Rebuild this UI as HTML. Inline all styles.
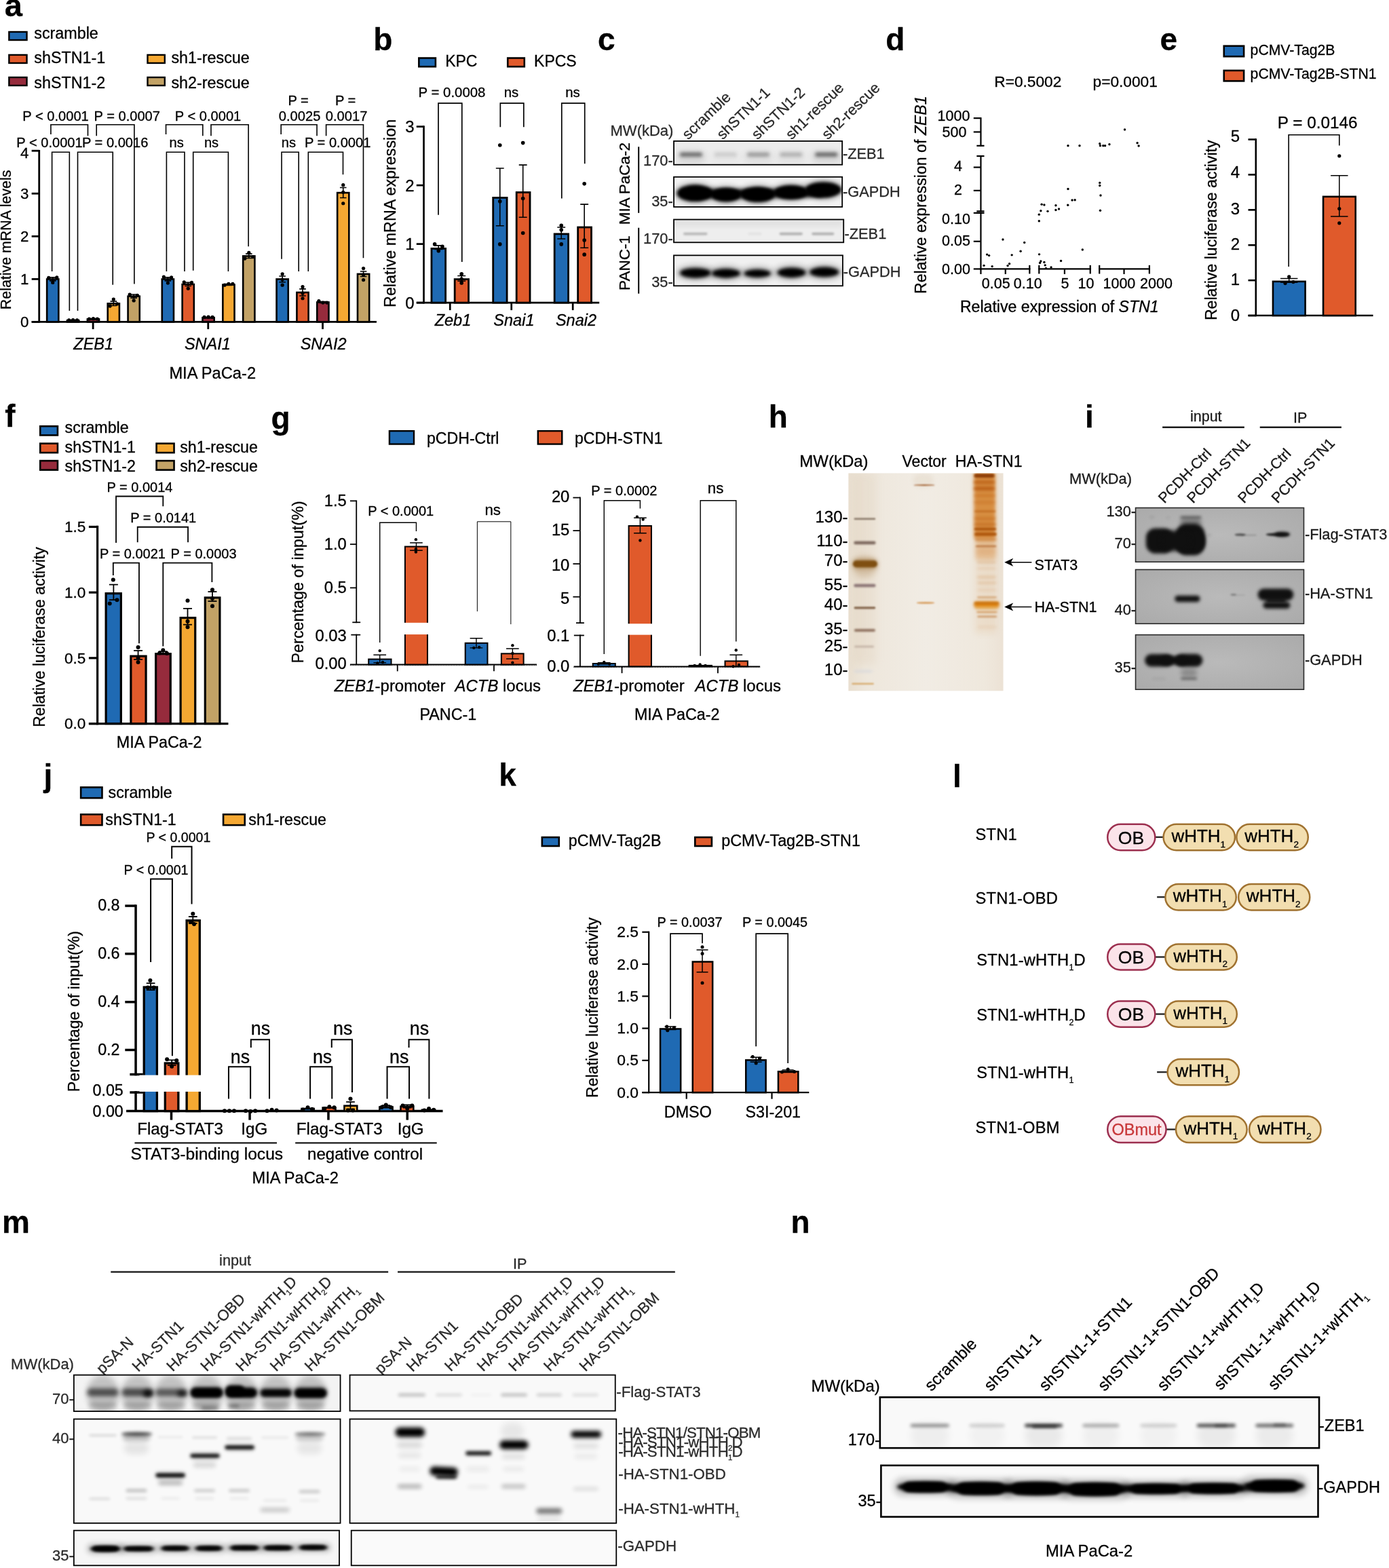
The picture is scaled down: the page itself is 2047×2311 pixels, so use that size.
<!DOCTYPE html>
<html><head><meta charset="utf-8"><title>Figure</title>
<style>
html,body{margin:0;padding:0;background:#fff;}
svg{display:block;}
text{font-family:"Liberation Sans",sans-serif;stroke-width:.3px;}
</style></head><body>
<svg width="2047" height="2311" viewBox="0 0 2047 2311">
<defs>
<filter id="bl1" x="-50%" y="-400%" width="200%" height="900%" color-interpolation-filters="sRGB"><feGaussianBlur stdDeviation="1"/></filter>
<filter id="bl1.5" x="-50%" y="-400%" width="200%" height="900%" color-interpolation-filters="sRGB"><feGaussianBlur stdDeviation="1.5"/></filter>
<filter id="bl2" x="-50%" y="-400%" width="200%" height="900%" color-interpolation-filters="sRGB"><feGaussianBlur stdDeviation="2"/></filter>
<filter id="bl2.5" x="-50%" y="-400%" width="200%" height="900%" color-interpolation-filters="sRGB"><feGaussianBlur stdDeviation="2.5"/></filter>
<filter id="bl3" x="-50%" y="-400%" width="200%" height="900%" color-interpolation-filters="sRGB"><feGaussianBlur stdDeviation="3"/></filter>
<filter id="bl3.5" x="-50%" y="-400%" width="200%" height="900%" color-interpolation-filters="sRGB"><feGaussianBlur stdDeviation="3.5"/></filter>
<filter id="bl4" x="-50%" y="-400%" width="200%" height="900%" color-interpolation-filters="sRGB"><feGaussianBlur stdDeviation="4"/></filter>
<filter id="bl5" x="-50%" y="-400%" width="200%" height="900%" color-interpolation-filters="sRGB"><feGaussianBlur stdDeviation="5"/></filter>
<filter id="bl6" x="-50%" y="-400%" width="200%" height="900%" color-interpolation-filters="sRGB"><feGaussianBlur stdDeviation="6"/></filter>
<filter id="bl8" x="-50%" y="-400%" width="200%" height="900%" color-interpolation-filters="sRGB"><feGaussianBlur stdDeviation="8"/></filter>
<filter id="bl10" x="-50%" y="-400%" width="200%" height="900%" color-interpolation-filters="sRGB"><feGaussianBlur stdDeviation="10"/></filter>
<filter id="bl14" x="-50%" y="-400%" width="200%" height="900%" color-interpolation-filters="sRGB"><feGaussianBlur stdDeviation="14"/></filter>
</defs>
<g id="panel-a">
<text x="6.79" y="24.31" font-size="47" font-weight="bold" stroke="#000">a</text>
<rect x="13.36" y="47.0" width="26.15" height="12.02" fill="#1f6ab3" stroke="#000" stroke-width="2.4"/>
<text x="50.32" y="56.54" font-size="23.3" stroke="#000">scramble</text>
<rect x="13.36" y="80.93" width="26.15" height="12.02" fill="#e05a2b" stroke="#000" stroke-width="2.4"/>
<text x="50.32" y="93.3" font-size="23.3" stroke="#000">shSTN1-1</text>
<rect x="13.36" y="114.0" width="26.15" height="12.02" fill="#962b3c" stroke="#000" stroke-width="2.4"/>
<text x="50.32" y="130.05" font-size="23.3" stroke="#000">shSTN1-2</text>
<rect x="217.48" y="80.93" width="25.31" height="12.02" fill="#f5a832" stroke="#000" stroke-width="2.4"/>
<text x="252.47" y="93.3" font-size="23.3" stroke="#000">sh1-rescue</text>
<rect x="217.48" y="114.0" width="25.31" height="12.02" fill="#c2a266" stroke="#000" stroke-width="2.4"/>
<text x="252.47" y="130.05" font-size="23.3" stroke="#000">sh2-rescue</text>
<line x1="57.72" y1="221.02" x2="57.72" y2="475.59999999999997" stroke="#000" stroke-width="2.8"/>
<line x1="46.65" y1="474.4" x2="554.97" y2="474.4" stroke="#000" stroke-width="2.8"/>
<line x1="46.65" y1="474.4" x2="57.72" y2="474.4" stroke="#000" stroke-width="2.8"/>
<text x="42.41" y="481.8" font-size="22.3" stroke="#000" text-anchor="end">0</text>
<line x1="46.65" y1="411.35" x2="57.72" y2="411.35" stroke="#000" stroke-width="2.8"/>
<text x="42.41" y="418.75" font-size="22.3" stroke="#000" text-anchor="end">1</text>
<line x1="46.65" y1="348.31" x2="57.72" y2="348.31" stroke="#000" stroke-width="2.8"/>
<text x="42.41" y="355.71" font-size="22.3" stroke="#000" text-anchor="end">2</text>
<line x1="46.65" y1="285.26" x2="57.72" y2="285.26" stroke="#000" stroke-width="2.8"/>
<text x="42.41" y="292.66" font-size="22.3" stroke="#000" text-anchor="end">3</text>
<line x1="46.65" y1="222.22" x2="57.72" y2="222.22" stroke="#000" stroke-width="2.8"/>
<text x="42.41" y="232.82" font-size="22.3" stroke="#000" text-anchor="end">4</text>
<line x1="137.12" y1="474.4" x2="137.12" y2="485.14" stroke="#000" stroke-width="2.8"/>
<line x1="306.75" y1="474.4" x2="306.75" y2="485.14" stroke="#000" stroke-width="2.8"/>
<line x1="475.53" y1="474.4" x2="475.53" y2="485.14" stroke="#000" stroke-width="2.8"/>
<text x="16.11" y="353.4" font-size="21.4" stroke="#000" text-anchor="middle" transform="rotate(-90 16.11 353.4)">Relative mRNA levels</text>
<rect x="69.15" y="411.45" width="17.19" height="62.95" fill="#1f6ab3" stroke="#000" stroke-width="2.6"/>
<path d="M77.75 408.83V413.88M72.95 408.83H82.55M72.95 413.88H82.55" stroke="#000" stroke-width="1.6" fill="none"/>
<circle cx="71.75" cy="409.46" r="2.6" fill="#000"/>
<circle cx="83.75" cy="408.83" r="2.6" fill="#000"/>
<circle cx="77.75" cy="416.4" r="2.6" fill="#000"/>
<rect x="99.01" y="472.29" width="17.19" height="2.11" fill="#e05a2b" stroke="#000" stroke-width="2.6"/>
<path d="M107.6 471.56V472.82M102.8 471.56H112.4M102.8 472.82H112.4" stroke="#000" stroke-width="1.6" fill="none"/>
<circle cx="101.6" cy="471.88" r="2.6" fill="#000"/>
<circle cx="107.6" cy="471.56" r="2.6" fill="#000"/>
<circle cx="113.6" cy="471.88" r="2.6" fill="#000"/>
<rect x="128.86" y="470.4" width="17.19" height="4.0" fill="#962b3c" stroke="#000" stroke-width="2.6"/>
<path d="M137.45 469.67V470.93M132.65 469.67H142.25M132.65 470.93H142.25" stroke="#000" stroke-width="1.6" fill="none"/>
<circle cx="131.45" cy="469.99" r="2.6" fill="#000"/>
<circle cx="137.45" cy="469.67" r="2.6" fill="#000"/>
<circle cx="143.45" cy="469.99" r="2.6" fill="#000"/>
<rect x="158.72" y="447.39" width="17.19" height="27.01" fill="#f5a832" stroke="#000" stroke-width="2.6"/>
<path d="M167.31 444.14V450.44M162.51 444.14H172.11M162.51 450.44H172.11" stroke="#000" stroke-width="1.6" fill="none"/>
<circle cx="167.31" cy="440.99" r="2.6" fill="#000"/>
<circle cx="162.06" cy="451.07" r="2.6" fill="#000"/>
<circle cx="172.56" cy="447.92" r="2.6" fill="#000"/>
<rect x="188.57" y="436.67" width="17.19" height="37.73" fill="#c2a266" stroke="#000" stroke-width="2.6"/>
<path d="M197.17 434.05V439.09M192.37 434.05H201.97M192.37 439.09H201.97" stroke="#000" stroke-width="1.6" fill="none"/>
<circle cx="191.17" cy="434.05" r="2.6" fill="#000"/>
<circle cx="202.42" cy="435.31" r="2.6" fill="#000"/>
<circle cx="197.17" cy="442.88" r="2.6" fill="#000"/>
<rect x="238.78" y="411.45" width="17.19" height="62.95" fill="#1f6ab3" stroke="#000" stroke-width="2.6"/>
<path d="M247.38 408.83V413.88M242.58 408.83H252.18M242.58 413.88H252.18" stroke="#000" stroke-width="1.6" fill="none"/>
<circle cx="241.38" cy="408.2" r="2.6" fill="#000"/>
<circle cx="252.63" cy="408.83" r="2.6" fill="#000"/>
<circle cx="247.38" cy="417.03" r="2.6" fill="#000"/>
<rect x="268.64" y="419.02" width="17.19" height="55.38" fill="#e05a2b" stroke="#000" stroke-width="2.6"/>
<path d="M277.24 416.4V421.44M272.44 416.4H282.04M272.44 421.44H282.04" stroke="#000" stroke-width="1.6" fill="none"/>
<circle cx="271.24" cy="415.77" r="2.6" fill="#000"/>
<circle cx="282.49" cy="416.4" r="2.6" fill="#000"/>
<circle cx="277.24" cy="425.22" r="2.6" fill="#000"/>
<rect x="298.49" y="468.2" width="17.19" height="6.2" fill="#962b3c" stroke="#000" stroke-width="2.6"/>
<path d="M307.09 467.47V468.73M302.29 467.47H311.89M302.29 468.73H311.89" stroke="#000" stroke-width="1.6" fill="none"/>
<circle cx="301.09" cy="467.47" r="2.6" fill="#000"/>
<circle cx="307.09" cy="467.15" r="2.6" fill="#000"/>
<circle cx="313.09" cy="467.47" r="2.6" fill="#000"/>
<rect x="328.35" y="419.65" width="17.19" height="54.75" fill="#f5a832" stroke="#000" stroke-width="2.6"/>
<path d="M336.94 418.61V420.5M332.14 418.61H341.74M332.14 420.5H341.74" stroke="#000" stroke-width="1.6" fill="none"/>
<circle cx="330.94" cy="420.18" r="2.6" fill="#000"/>
<circle cx="336.94" cy="418.29" r="2.6" fill="#000"/>
<circle cx="342.94" cy="418.29" r="2.6" fill="#000"/>
<rect x="358.2" y="377.41" width="17.19" height="96.99" fill="#c2a266" stroke="#000" stroke-width="2.6"/>
<path d="M366.79 374.16V380.46M361.99 374.16H371.59M361.99 380.46H371.59" stroke="#000" stroke-width="1.6" fill="none"/>
<circle cx="360.79" cy="381.09" r="2.6" fill="#000"/>
<circle cx="366.79" cy="372.27" r="2.6" fill="#000"/>
<circle cx="372.79" cy="378.57" r="2.6" fill="#000"/>
<rect x="407.56" y="411.45" width="17.19" height="62.95" fill="#1f6ab3" stroke="#000" stroke-width="2.6"/>
<path d="M416.15 406.94V415.77M411.35 406.94H420.95M411.35 415.77H420.95" stroke="#000" stroke-width="1.6" fill="none"/>
<circle cx="416.15" cy="403.79" r="2.6" fill="#000"/>
<circle cx="416.15" cy="411.99" r="2.6" fill="#000"/>
<circle cx="416.15" cy="420.18" r="2.6" fill="#000"/>
<rect x="437.42" y="431.0" width="17.19" height="43.4" fill="#e05a2b" stroke="#000" stroke-width="2.6"/>
<path d="M446.01 425.86V435.94M441.21 425.86H450.81M441.21 435.94H450.81" stroke="#000" stroke-width="1.6" fill="none"/>
<circle cx="446.01" cy="422.7" r="2.6" fill="#000"/>
<circle cx="446.01" cy="432.16" r="2.6" fill="#000"/>
<circle cx="446.01" cy="439.73" r="2.6" fill="#000"/>
<rect x="467.27" y="445.5" width="17.19" height="28.9" fill="#962b3c" stroke="#000" stroke-width="2.6"/>
<path d="M475.87 444.45V446.34M471.07 444.45H480.67M471.07 446.34H480.67" stroke="#000" stroke-width="1.6" fill="none"/>
<circle cx="469.87" cy="443.51" r="2.6" fill="#000"/>
<circle cx="475.87" cy="446.03" r="2.6" fill="#000"/>
<circle cx="481.87" cy="446.03" r="2.6" fill="#000"/>
<rect x="497.13" y="284.1" width="17.19" height="190.3" fill="#f5a832" stroke="#000" stroke-width="2.6"/>
<path d="M505.73 276.44V291.57M500.93 276.44H510.53M500.93 291.57H510.53" stroke="#000" stroke-width="1.6" fill="none"/>
<circle cx="505.73" cy="272.66" r="2.6" fill="#000"/>
<circle cx="505.73" cy="283.37" r="2.6" fill="#000"/>
<circle cx="505.73" cy="299.77" r="2.6" fill="#000"/>
<rect x="526.98" y="403.89" width="17.19" height="70.51" fill="#c2a266" stroke="#000" stroke-width="2.6"/>
<path d="M535.58 400.01V407.57M530.78 400.01H540.38M530.78 407.57H540.38" stroke="#000" stroke-width="1.6" fill="none"/>
<circle cx="535.58" cy="395.59" r="2.6" fill="#000"/>
<circle cx="535.58" cy="405.05" r="2.6" fill="#000"/>
<circle cx="535.58" cy="412.62" r="2.6" fill="#000"/>
<path d="M76.62 400.04V224.19H102.34V458.0" stroke="#000" stroke-width="1.6" fill="none"/>
<path d="M114.5 458.0V224.19H166.24V419.83" stroke="#000" stroke-width="1.6" fill="none"/>
<path d="M245.4 400.04V224.19H271.97V400.04" stroke="#000" stroke-width="1.6" fill="none"/>
<path d="M284.7 398.63V224.19H336.43V400.04" stroke="#000" stroke-width="1.6" fill="none"/>
<path d="M415.03 381.67V224.19H440.19V400.04" stroke="#000" stroke-width="1.6" fill="none"/>
<path d="M454.33 400.04V224.19H505.5V257.27" stroke="#000" stroke-width="1.6" fill="none"/>
<path d="M74.92 197.9V183.77H129.48V200.16" stroke="#000" stroke-width="1.6" fill="none"/>
<path d="M142.21 200.16V183.77H197.9V418.42" stroke="#000" stroke-width="1.6" fill="none"/>
<path d="M244.55 197.9V183.77H298.83V200.16" stroke="#000" stroke-width="1.6" fill="none"/>
<path d="M310.99 200.16V183.77H366.12V363.29" stroke="#000" stroke-width="1.6" fill="none"/>
<path d="M414.18 197.9V183.77H467.05V200.16" stroke="#000" stroke-width="1.6" fill="none"/>
<path d="M480.62 200.16V183.77H535.47V380.25" stroke="#000" stroke-width="1.6" fill="none"/>
<text x="33.36" y="178.11" font-size="20.1" stroke="#000">P &lt; 0.0001</text>
<text x="138.53" y="178.11" font-size="20.1" stroke="#000">P = 0.0007</text>
<text x="24.31" y="217.13" font-size="20.1" stroke="#000">P &lt; 0.0001</text>
<text x="121.0" y="217.13" font-size="20.1" stroke="#000">P = 0.0016</text>
<text x="257.84" y="178.11" font-size="20.1" stroke="#000">P &lt; 0.0001</text>
<text x="260.1" y="217.13" font-size="20.1" stroke="#000" text-anchor="middle">ns</text>
<text x="311.55" y="217.13" font-size="20.1" stroke="#000" text-anchor="middle">ns</text>
<text x="439.62" y="154.93" font-size="20.1" stroke="#000" text-anchor="middle">P =</text>
<text x="441.6" y="178.11" font-size="20.1" stroke="#000" text-anchor="middle">0.0025</text>
<text x="509.17" y="154.93" font-size="20.1" stroke="#000" text-anchor="middle">P =</text>
<text x="510.59" y="178.11" font-size="20.1" stroke="#000" text-anchor="middle">0.0017</text>
<text x="425.49" y="217.13" font-size="20.1" stroke="#000" text-anchor="middle">ns</text>
<text x="448.95" y="217.13" font-size="20.1" stroke="#000">P = 0.0001</text>
<text x="137.68" y="515.39" font-size="23.5" font-style="italic" stroke="#000" text-anchor="middle">ZEB1</text>
<text x="305.9" y="515.39" font-size="23.5" font-style="italic" stroke="#000" text-anchor="middle">SNAI1</text>
<text x="476.66" y="515.39" font-size="23.5" font-style="italic" stroke="#000" text-anchor="middle">SNAI2</text>
<text x="313.25" y="557.52" font-size="23.7" stroke="#000" text-anchor="middle">MIA PaCa-2</text>
</g>
<g id="panel-b">
<text x="550.17" y="74.07" font-size="46" font-weight="bold" stroke="#000">b</text>
<rect x="617.34" y="85.55" width="24.54" height="12.67" fill="#1f6ab3" stroke="#000" stroke-width="2.6"/>
<text x="656.19" y="98.39" font-size="23" stroke="#000">KPC</text>
<rect x="748.24" y="85.55" width="24.54" height="12.67" fill="#e05a2b" stroke="#000" stroke-width="2.6"/>
<text x="787.08" y="98.39" font-size="23" stroke="#000">KPCS</text>
<text x="616.61" y="143.05" font-size="20.4" stroke="#000">P = 0.0008</text>
<text x="753.44" y="143.05" font-size="20.4" stroke="#000" text-anchor="middle">ns</text>
<text x="843.91" y="143.05" font-size="20.4" stroke="#000" text-anchor="middle">ns</text>
<path d="M646.01 316.64V152.1H680.78V385.91" stroke="#000" stroke-width="1.7" fill="none"/>
<path d="M737.33 187.16V152.1H771.82V187.16" stroke="#000" stroke-width="1.7" fill="none"/>
<path d="M827.79 292.61V152.1H861.72V241.16" stroke="#000" stroke-width="1.7" fill="none"/>
<line x1="624.52" y1="185.24" x2="624.52" y2="447.48" stroke="#000" stroke-width="2.7"/>
<line x1="613.78" y1="446.13" x2="883.21" y2="446.13" stroke="#000" stroke-width="2.7"/>
<line x1="613.78" y1="446.13" x2="624.52" y2="446.13" stroke="#000" stroke-width="2.7"/>
<text x="610.67" y="454.53" font-size="24" stroke="#000" text-anchor="end">0</text>
<line x1="613.78" y1="359.62" x2="624.52" y2="359.62" stroke="#000" stroke-width="2.7"/>
<text x="610.67" y="368.02" font-size="24" stroke="#000" text-anchor="end">1</text>
<line x1="613.78" y1="273.1" x2="624.52" y2="273.1" stroke="#000" stroke-width="2.7"/>
<text x="610.67" y="281.5" font-size="24" stroke="#000" text-anchor="end">2</text>
<line x1="613.78" y1="186.59" x2="624.52" y2="186.59" stroke="#000" stroke-width="2.7"/>
<text x="610.67" y="194.99" font-size="24" stroke="#000" text-anchor="end">3</text>
<line x1="663.25" y1="446.13" x2="663.25" y2="457.15" stroke="#000" stroke-width="2.7"/>
<line x1="753.72" y1="446.13" x2="753.72" y2="457.15" stroke="#000" stroke-width="2.7"/>
<line x1="844.19" y1="446.13" x2="844.19" y2="457.15" stroke="#000" stroke-width="2.7"/>
<text x="582.68" y="314.38" font-size="23.3" stroke="#000" text-anchor="middle" transform="rotate(-90 582.68 314.38)">Relative mRNA expression</text>
<rect x="635.95" y="366.35" width="20.68" height="79.78" fill="#1f6ab3" stroke="#000" stroke-width="2.8"/>
<rect x="670.16" y="411.59" width="20.4" height="34.54" fill="#e05a2b" stroke="#000" stroke-width="2.8"/>
<rect x="726.7" y="291.43" width="20.4" height="154.7" fill="#1f6ab3" stroke="#000" stroke-width="2.8"/>
<rect x="761.19" y="283.52" width="19.84" height="162.61" fill="#e05a2b" stroke="#000" stroke-width="2.8"/>
<rect x="817.17" y="344.87" width="20.4" height="101.26" fill="#1f6ab3" stroke="#000" stroke-width="2.8"/>
<rect x="851.66" y="334.97" width="19.84" height="111.16" fill="#e05a2b" stroke="#000" stroke-width="2.8"/>
<path d="M646.29 361.88V367.53M640.35 361.88H652.23M640.35 367.53H652.23" stroke="#000" stroke-width="1.6" fill="none"/>
<path d="M680.22 406.55V414.18M674.28 406.55H686.16M674.28 414.18H686.16" stroke="#000" stroke-width="1.6" fill="none"/>
<path d="M736.76 247.94V332.76M730.82 247.94H742.7M730.82 332.76H742.7" stroke="#000" stroke-width="1.6" fill="none"/>
<path d="M770.69 243.14V320.32M764.75 243.14H776.63M764.75 320.32H776.63" stroke="#000" stroke-width="1.6" fill="none"/>
<path d="M827.23 335.02V351.98M821.29 335.02H833.17M821.29 351.98H833.17" stroke="#000" stroke-width="1.6" fill="none"/>
<path d="M861.16 301.09V365.27M855.22 301.09H867.1M855.22 365.27H867.1" stroke="#000" stroke-width="1.6" fill="none"/>
<circle cx="640.64" cy="359.9" r="2.8" fill="#000"/>
<circle cx="651.94" cy="363.29" r="2.8" fill="#000"/>
<circle cx="646.29" cy="369.79" r="2.8" fill="#000"/>
<circle cx="680.22" cy="403.72" r="2.8" fill="#000"/>
<circle cx="680.22" cy="411.35" r="2.8" fill="#000"/>
<circle cx="680.22" cy="417.01" r="2.8" fill="#000"/>
<circle cx="736.76" cy="214.02" r="2.8" fill="#000"/>
<circle cx="736.76" cy="296.85" r="2.8" fill="#000"/>
<circle cx="736.76" cy="359.9" r="2.8" fill="#000"/>
<circle cx="770.69" cy="210.62" r="2.8" fill="#000"/>
<circle cx="770.69" cy="292.61" r="2.8" fill="#000"/>
<circle cx="770.69" cy="343.5" r="2.8" fill="#000"/>
<circle cx="827.23" cy="332.19" r="2.8" fill="#000"/>
<circle cx="827.23" cy="338.69" r="2.8" fill="#000"/>
<circle cx="827.23" cy="359.9" r="2.8" fill="#000"/>
<circle cx="861.16" cy="270.84" r="2.8" fill="#000"/>
<circle cx="861.16" cy="353.96" r="2.8" fill="#000"/>
<circle cx="861.16" cy="375.17" r="2.8" fill="#000"/>
<text x="667.49" y="480.05" font-size="23.5" font-style="italic" stroke="#000" text-anchor="middle">Zeb1</text>
<text x="757.4" y="480.05" font-size="23.5" font-style="italic" stroke="#000" text-anchor="middle">Snai1</text>
<text x="849.0" y="480.05" font-size="23.5" font-style="italic" stroke="#000" text-anchor="middle">Snai2</text>
</g>
<g id="panel-c">
<text x="880.95" y="74.07" font-size="46" font-weight="bold" stroke="#000">c</text>
<text x="899.56" y="199.57" font-size="22" fill="#2a2a2a" stroke="#2a2a2a">MW(kDa)</text>
<text x="928.26" y="270.69" font-size="22.5" stroke="#000" text-anchor="middle" transform="rotate(-90 928.26 270.69)">MIA PaCa-2</text>
<text x="928.26" y="387.53" font-size="22.5" stroke="#000" text-anchor="middle" transform="rotate(-90 928.26 387.53)">PANC-1</text>
<line x1="941.21" y1="216.33" x2="941.21" y2="313.87" stroke="#000" stroke-width="2"/>
<line x1="941.21" y1="335.72" x2="941.21" y2="432.74" stroke="#000" stroke-width="2"/>
<text x="991.76" y="244.27" font-size="21.8" fill="#2a2a2a" stroke="#2a2a2a" text-anchor="end">170-</text>
<text x="991.76" y="303.96" font-size="21.8" fill="#2a2a2a" stroke="#2a2a2a" text-anchor="end">35-</text>
<text x="991.76" y="359.08" font-size="21.8" fill="#2a2a2a" stroke="#2a2a2a" text-anchor="end">170-</text>
<text x="991.76" y="423.09" font-size="21.8" fill="#2a2a2a" stroke="#2a2a2a" text-anchor="end">35-</text>
<text x="1241.95" y="234.11" font-size="21.8" fill="#2a2a2a" stroke="#2a2a2a">-ZEB1</text>
<text x="1241.95" y="289.99" font-size="21.8" fill="#2a2a2a" stroke="#2a2a2a">-GAPDH</text>
<text x="1244.49" y="351.97" font-size="21.8" fill="#2a2a2a" stroke="#2a2a2a">-ZEB1</text>
<text x="1242.72" y="408.11" font-size="21.8" fill="#2a2a2a" stroke="#2a2a2a">-GAPDH</text>
<text x="1014.11" y="206.68" font-size="22" fill="#2a2a2a" stroke="#2a2a2a" transform="rotate(-44 1014.11 206.68)">scramble</text>
<text x="1064.91" y="206.68" font-size="22" fill="#2a2a2a" stroke="#2a2a2a" transform="rotate(-44 1064.91 206.68)">shSTN1-1</text>
<text x="1116.22" y="206.68" font-size="22" fill="#2a2a2a" stroke="#2a2a2a" transform="rotate(-44 1116.22 206.68)">shSTN1-2</text>
<text x="1166.52" y="206.68" font-size="22" fill="#2a2a2a" stroke="#2a2a2a" transform="rotate(-44 1166.52 206.68)">sh1-rescue</text>
<text x="1219.86" y="206.68" font-size="22" fill="#2a2a2a" stroke="#2a2a2a" transform="rotate(-44 1219.86 206.68)">sh2-rescue</text>
<clipPath id="bc1"><rect x="993.03" y="207.95" width="248.16" height="34.8"/></clipPath>
<rect x="993.03" y="207.95" width="248.16" height="34.8" fill="#ececec"/>
<g clip-path="url(#bc1)">
<rect x="1001.92" y="224.71" width="33.02" height="6.1" rx="3.05" ry="3.05" fill="#1a1a1a" opacity="0.6" filter="url(#bl2.5)"/>
<rect x="996.84" y="221.92" width="43.18" height="17.78" rx="8.89" ry="8.89" fill="#444" opacity="0.132" filter="url(#bl4)"/>
<rect x="1052.72" y="224.71" width="33.02" height="6.1" rx="3.05" ry="3.05" fill="#1a1a1a" opacity="0.13" filter="url(#bl2.5)"/>
<rect x="1047.64" y="221.92" width="43.18" height="17.78" rx="8.89" ry="8.89" fill="#444" opacity="0.0286" filter="url(#bl4)"/>
<rect x="1100.98" y="224.71" width="33.02" height="6.1" rx="3.05" ry="3.05" fill="#1a1a1a" opacity="0.36" filter="url(#bl2.5)"/>
<rect x="1095.9" y="221.92" width="43.18" height="17.78" rx="8.89" ry="8.89" fill="#444" opacity="0.07919999999999999" filter="url(#bl4)"/>
<rect x="1149.24" y="224.71" width="33.02" height="6.1" rx="3.05" ry="3.05" fill="#1a1a1a" opacity="0.26" filter="url(#bl2.5)"/>
<rect x="1144.16" y="221.92" width="43.18" height="17.78" rx="8.89" ry="8.89" fill="#444" opacity="0.0572" filter="url(#bl4)"/>
<rect x="1201.31" y="224.71" width="33.02" height="6.1" rx="3.05" ry="3.05" fill="#1a1a1a" opacity="0.62" filter="url(#bl2.5)"/>
<rect x="1196.23" y="221.92" width="43.18" height="17.78" rx="8.89" ry="8.89" fill="#444" opacity="0.1364" filter="url(#bl4)"/>
</g>
<rect x="993.03" y="207.95" width="248.16" height="34.8" fill="none" stroke="#000" stroke-width="1.8"/>
<clipPath id="bc2"><rect x="993.03" y="260.78" width="248.16" height="44.2"/></clipPath>
<rect x="993.03" y="260.78" width="248.16" height="44.2" fill="#f3f3f3"/>
<g clip-path="url(#bc2)">
<ellipse cx="1024.27" cy="284.66" rx="30.48" ry="15.24" fill="#000" opacity="0.3" filter="url(#bl4)"/>
<ellipse cx="1024.27" cy="284.66" rx="26.67" ry="12.45" fill="#000" opacity="1" filter="url(#bl2)"/>
<ellipse cx="1069.99" cy="287.2" rx="26.04" ry="13.21" fill="#000" opacity="0.3" filter="url(#bl4)"/>
<ellipse cx="1069.99" cy="287.2" rx="22.23" ry="10.41" fill="#000" opacity="1" filter="url(#bl2)"/>
<ellipse cx="1116.73" cy="286.69" rx="29.21" ry="14.22" fill="#000" opacity="0.3" filter="url(#bl4)"/>
<ellipse cx="1116.73" cy="286.69" rx="25.4" ry="11.43" fill="#000" opacity="1" filter="url(#bl2)"/>
<ellipse cx="1165.75" cy="283.39" rx="28.57" ry="13.46" fill="#000" opacity="0.3" filter="url(#bl4)"/>
<ellipse cx="1165.75" cy="283.39" rx="24.77" ry="10.67" fill="#000" opacity="1" filter="url(#bl2)"/>
<ellipse cx="1213.25" cy="279.83" rx="30.48" ry="14.48" fill="#000" opacity="0.3" filter="url(#bl4)"/>
<ellipse cx="1213.25" cy="279.83" rx="26.67" ry="11.69" fill="#000" opacity="1" filter="url(#bl2)"/>
<rect x="1019.7" y="279.83" width="193.04" height="10.16" rx="5.08" ry="5.08" fill="#000" opacity="1" filter="url(#bl3)"/>
</g>
<rect x="993.03" y="260.78" width="248.16" height="44.2" fill="none" stroke="#000" stroke-width="1.8"/>
<clipPath id="bc3"><rect x="993.03" y="323.52" width="250.19" height="33.79"/></clipPath>
<rect x="993.03" y="323.52" width="250.19" height="33.79" fill="#eeeeee"/>
<g clip-path="url(#bc3)">
<rect x="1007.0" y="342.83" width="35.56" height="3.56" rx="1.78" ry="1.78" fill="#333" opacity="0.3" filter="url(#bl1.5)"/>
<rect x="1148.61" y="342.83" width="34.29" height="3.56" rx="1.78" ry="1.78" fill="#333" opacity="0.34" filter="url(#bl1.5)"/>
<rect x="1196.23" y="342.83" width="33.02" height="3.56" rx="1.78" ry="1.78" fill="#333" opacity="0.34" filter="url(#bl1.5)"/>
<rect x="1102.25" y="342.83" width="20.32" height="3.56" rx="1.78" ry="1.78" fill="#333" opacity="0.06" filter="url(#bl1.5)"/>
<rect x="989.22" y="324.79" width="254.0" height="7.62" rx="3.81" ry="3.81" fill="#000" opacity="0.07" filter="url(#bl4)"/>
</g>
<rect x="993.03" y="323.52" width="250.19" height="33.79" fill="none" stroke="#000" stroke-width="1.8"/>
<clipPath id="bc4"><rect x="993.03" y="376.36" width="248.92" height="44.95"/></clipPath>
<rect x="993.03" y="376.36" width="248.92" height="44.95" fill="#f1f1f1"/>
<g clip-path="url(#bc4)">
<ellipse cx="1024.78" cy="402.26" rx="27.94" ry="10.92" fill="#000" opacity="0.28" filter="url(#bl5)"/>
<ellipse cx="1024.78" cy="402.26" rx="22.86" ry="7.37" fill="#000" opacity="1" filter="url(#bl2.5)"/>
<ellipse cx="1069.99" cy="402.77" rx="26.04" ry="10.41" fill="#000" opacity="0.28" filter="url(#bl5)"/>
<ellipse cx="1069.99" cy="402.77" rx="20.95" ry="6.86" fill="#000" opacity="1" filter="url(#bl2.5)"/>
<ellipse cx="1116.22" cy="403.03" rx="24.77" ry="9.65" fill="#000" opacity="0.28" filter="url(#bl5)"/>
<ellipse cx="1116.22" cy="403.03" rx="19.68" ry="6.09" fill="#000" opacity="1" filter="url(#bl2.5)"/>
<ellipse cx="1166.52" cy="401.76" rx="26.04" ry="10.92" fill="#000" opacity="0.28" filter="url(#bl5)"/>
<ellipse cx="1166.52" cy="401.76" rx="20.95" ry="7.37" fill="#000" opacity="1" filter="url(#bl2.5)"/>
<ellipse cx="1214.78" cy="400.99" rx="26.67" ry="10.92" fill="#000" opacity="0.28" filter="url(#bl5)"/>
<ellipse cx="1214.78" cy="400.99" rx="21.59" ry="7.37" fill="#000" opacity="1" filter="url(#bl2.5)"/>
</g>
<rect x="993.03" y="376.36" width="248.92" height="44.95" fill="none" stroke="#000" stroke-width="1.8"/>
</g>
<g id="panel-d">
<text x="1305.3" y="74.07" font-size="46" font-weight="bold" stroke="#000">d</text>
<text x="1465.26" y="128.45" font-size="22.7" stroke="#000">R=0.5002</text>
<text x="1610.55" y="128.45" font-size="22.7" stroke="#000">p=0.0001</text>
<line x1="1445.45" y1="173.07" x2="1445.45" y2="215.91" stroke="#000" stroke-width="2.2"/>
<line x1="1445.45" y1="228.95000000000002" x2="1445.45" y2="312.43" stroke="#000" stroke-width="2.2"/>
<line x1="1445.45" y1="312.77" x2="1445.45" y2="397.52000000000004" stroke="#000" stroke-width="2.2"/>
<line x1="1434.78" y1="174.17" x2="1445.45" y2="174.17" stroke="#000" stroke-width="2.2"/>
<line x1="1434.78" y1="194.49" x2="1445.45" y2="194.49" stroke="#000" stroke-width="2.2"/>
<line x1="1434.78" y1="246.56" x2="1445.45" y2="246.56" stroke="#000" stroke-width="2.2"/>
<line x1="1434.78" y1="280.85" x2="1445.45" y2="280.85" stroke="#000" stroke-width="2.2"/>
<line x1="1434.78" y1="313.87" x2="1445.45" y2="313.87" stroke="#000" stroke-width="2.2"/>
<line x1="1434.78" y1="355.78" x2="1445.45" y2="355.78" stroke="#000" stroke-width="2.2"/>
<line x1="1434.78" y1="396.42" x2="1445.45" y2="396.42" stroke="#000" stroke-width="2.2"/>
<line x1="1439.35" y1="214.81" x2="1450.53" y2="214.81" stroke="#000" stroke-width="2.2"/>
<line x1="1439.35" y1="230.05" x2="1450.53" y2="230.05" stroke="#000" stroke-width="2.2"/>
<line x1="1439.35" y1="311.33" x2="1450.53" y2="311.33" stroke="#000" stroke-width="2.2"/>
<line x1="1439.35" y1="313.87" x2="1450.53" y2="313.87" stroke="#000" stroke-width="2.2"/>
<text x="1429.45" y="178.23" font-size="21.5" stroke="#000" text-anchor="end">1000</text>
<text x="1424.37" y="202.11" font-size="21.5" stroke="#000" text-anchor="end">500</text>
<text x="1418.02" y="251.89" font-size="21.5" stroke="#000" text-anchor="end">4</text>
<text x="1418.02" y="287.45" font-size="21.5" stroke="#000" text-anchor="end">2</text>
<text x="1429.96" y="329.87" font-size="21.5" stroke="#000" text-anchor="end">0.10</text>
<text x="1429.96" y="362.13" font-size="21.5" stroke="#000" text-anchor="end">0.05</text>
<text x="1429.96" y="403.53" font-size="21.5" stroke="#000" text-anchor="end">0.00</text>
<line x1="1444.3500000000001" y1="396.42" x2="1518.4299999999998" y2="396.42" stroke="#000" stroke-width="2.2"/>
<line x1="1530.2" y1="396.42" x2="1607.84" y2="396.42" stroke="#000" stroke-width="2.2"/>
<line x1="1619.1000000000001" y1="396.42" x2="1694.9699999999998" y2="396.42" stroke="#000" stroke-width="2.2"/>
<line x1="1445.45" y1="396.42" x2="1445.45" y2="404.04" stroke="#000" stroke-width="2.2"/>
<line x1="1481.77" y1="396.42" x2="1481.77" y2="404.04" stroke="#000" stroke-width="2.2"/>
<line x1="1568.9" y1="396.42" x2="1568.9" y2="404.04" stroke="#000" stroke-width="2.2"/>
<line x1="1656.53" y1="396.42" x2="1656.53" y2="404.04" stroke="#000" stroke-width="2.2"/>
<line x1="1517.33" y1="390.83" x2="1517.33" y2="403.53" stroke="#000" stroke-width="2.2"/>
<line x1="1531.3" y1="390.83" x2="1531.3" y2="403.53" stroke="#000" stroke-width="2.2"/>
<line x1="1606.74" y1="390.83" x2="1606.74" y2="403.53" stroke="#000" stroke-width="2.2"/>
<line x1="1620.2" y1="390.83" x2="1620.2" y2="403.53" stroke="#000" stroke-width="2.2"/>
<line x1="1693.87" y1="390.83" x2="1693.87" y2="403.53" stroke="#000" stroke-width="2.2"/>
<text x="1467.8" y="425.12" font-size="21.5" stroke="#000" text-anchor="middle">0.05</text>
<text x="1514.79" y="425.12" font-size="21.5" stroke="#000" text-anchor="middle">0.10</text>
<text x="1569.4" y="425.12" font-size="21.5" stroke="#000" text-anchor="middle">5</text>
<text x="1600.39" y="425.12" font-size="21.5" stroke="#000" text-anchor="middle">10</text>
<text x="1649.41" y="425.12" font-size="21.5" stroke="#000" text-anchor="middle">1000</text>
<text x="1704.03" y="425.12" font-size="21.5" stroke="#000" text-anchor="middle">2000</text>
<text x="1365.44" y="287.2" font-size="23.1" stroke="#000" text-anchor="middle" transform="rotate(-90 1365.44 287.2)">Relative expression of <tspan font-style="italic">ZEB1</tspan></text>
<text x="1561.28" y="459.92" font-size="23.1" stroke="#000" text-anchor="middle">Relative expression of <tspan font-style="italic">STN1</tspan></text>
<circle cx="1657.54" cy="190.93" r="1.7" fill="#000"/>
<circle cx="1573.98" cy="214.81" r="1.7" fill="#000"/>
<circle cx="1590.99" cy="214.81" r="1.7" fill="#000"/>
<circle cx="1620.71" cy="211.76" r="1.7" fill="#000"/>
<circle cx="1621.47" cy="214.81" r="1.7" fill="#000"/>
<circle cx="1625.79" cy="214.81" r="1.7" fill="#000"/>
<circle cx="1628.59" cy="214.81" r="1.7" fill="#000"/>
<circle cx="1634.94" cy="212.78" r="1.7" fill="#000"/>
<circle cx="1676.09" cy="210.75" r="1.7" fill="#000"/>
<circle cx="1678.12" cy="215.06" r="1.7" fill="#000"/>
<circle cx="1620.71" cy="269.42" r="1.7" fill="#000"/>
<circle cx="1620.71" cy="273.48" r="1.7" fill="#000"/>
<circle cx="1573.98" cy="278.56" r="1.7" fill="#000"/>
<circle cx="1621.98" cy="287.96" r="1.7" fill="#000"/>
<circle cx="1580.07" cy="295.07" r="1.7" fill="#000"/>
<circle cx="1584.14" cy="294.82" r="1.7" fill="#000"/>
<circle cx="1573.72" cy="302.19" r="1.7" fill="#000"/>
<circle cx="1535.11" cy="301.17" r="1.7" fill="#000"/>
<circle cx="1538.92" cy="301.93" r="1.7" fill="#000"/>
<circle cx="1555.94" cy="302.69" r="1.7" fill="#000"/>
<circle cx="1544.0" cy="311.33" r="1.7" fill="#000"/>
<circle cx="1555.94" cy="309.55" r="1.7" fill="#000"/>
<circle cx="1560.51" cy="308.03" r="1.7" fill="#000"/>
<circle cx="1533.84" cy="310.82" r="1.7" fill="#000"/>
<circle cx="1621.47" cy="310.31" r="1.7" fill="#000"/>
<circle cx="1531.3" cy="316.16" r="1.7" fill="#000"/>
<circle cx="1531.3" cy="325.81" r="1.7" fill="#000"/>
<circle cx="1477.96" cy="352.99" r="1.7" fill="#000"/>
<circle cx="1509.71" cy="357.56" r="1.7" fill="#000"/>
<circle cx="1504.12" cy="370.26" r="1.7" fill="#000"/>
<circle cx="1491.17" cy="375.85" r="1.7" fill="#000"/>
<circle cx="1454.59" cy="375.09" r="1.7" fill="#000"/>
<circle cx="1457.64" cy="376.61" r="1.7" fill="#000"/>
<circle cx="1531.56" cy="374.83" r="1.7" fill="#000"/>
<circle cx="1595.31" cy="367.97" r="1.7" fill="#000"/>
<circle cx="1563.56" cy="384.48" r="1.7" fill="#000"/>
<circle cx="1533.84" cy="384.99" r="1.7" fill="#000"/>
<circle cx="1538.92" cy="386.52" r="1.7" fill="#000"/>
<circle cx="1532.57" cy="387.53" r="1.7" fill="#000"/>
<circle cx="1540.19" cy="390.83" r="1.7" fill="#000"/>
<circle cx="1487.61" cy="388.8" r="1.7" fill="#000"/>
<circle cx="1485.07" cy="391.6" r="1.7" fill="#000"/>
<circle cx="1450.02" cy="391.34" r="1.7" fill="#000"/>
<circle cx="1462.21" cy="392.61" r="1.7" fill="#000"/>
<circle cx="1541.46" cy="395.41" r="1.7" fill="#000"/>
<circle cx="1549.08" cy="393.88" r="1.7" fill="#000"/>
</g>
<g id="panel-e">
<text x="1709.44" y="74.07" font-size="46" font-weight="bold" stroke="#000">e</text>
<rect x="1803.75" y="67.74" width="29.35" height="15.49" fill="#1f6ab3" stroke="#000" stroke-width="2.6"/>
<text x="1842.6" y="81.14" font-size="21.2" stroke="#000">pCMV-Tag2B</text>
<rect x="1803.75" y="103.93" width="29.35" height="15.49" fill="#e05a2b" stroke="#000" stroke-width="2.6"/>
<text x="1842.6" y="116.48" font-size="21.2" stroke="#000">pCMV-Tag2B-STN1</text>
<text x="1882.74" y="189.42" font-size="24.3" stroke="#000">P = 0.0146</text>
<path d="M1899.14 392.98V198.75H1973.78V214.58" stroke="#000" stroke-width="1.6" fill="none"/>
<line x1="1850.79" y1="204.23999999999998" x2="1850.79" y2="466.37" stroke="#000" stroke-width="2.6"/>
<line x1="1839.49" y1="465.07" x2="2023.53" y2="465.07" stroke="#000" stroke-width="2.6"/>
<line x1="1839.49" y1="465.07" x2="1850.79" y2="465.07" stroke="#000" stroke-width="2.6"/>
<text x="1827.05" y="472.6" font-size="24" stroke="#000" text-anchor="end">0</text>
<line x1="1839.49" y1="413.16" x2="1850.79" y2="413.16" stroke="#000" stroke-width="2.6"/>
<text x="1827.05" y="420.2" font-size="24" stroke="#000" text-anchor="end">1</text>
<line x1="1839.49" y1="361.26" x2="1850.79" y2="361.26" stroke="#000" stroke-width="2.6"/>
<text x="1827.05" y="367.7" font-size="24" stroke="#000" text-anchor="end">2</text>
<line x1="1839.49" y1="309.35" x2="1850.79" y2="309.35" stroke="#000" stroke-width="2.6"/>
<text x="1827.05" y="316.1" font-size="24" stroke="#000" text-anchor="end">3</text>
<line x1="1839.49" y1="257.45" x2="1850.79" y2="257.45" stroke="#000" stroke-width="2.6"/>
<text x="1827.05" y="262.1" font-size="24" stroke="#000" text-anchor="end">4</text>
<line x1="1839.49" y1="205.54" x2="1850.79" y2="205.54" stroke="#000" stroke-width="2.6"/>
<text x="1827.05" y="208.9" font-size="24" stroke="#000" text-anchor="end">5</text>
<text x="1792.84" y="339.26" font-size="23.1" stroke="#000" text-anchor="middle" transform="rotate(-90 1792.84 339.26)">Relative luciferase activity</text>
<rect x="1875.97" y="414.88" width="47.63" height="50.19" fill="#1f6ab3" stroke="#000" stroke-width="2.6"/>
<rect x="1950.05" y="289.84" width="47.66" height="175.23" fill="#e05a2b" stroke="#000" stroke-width="2.6"/>
<path d="M1899.7 410.5V416.16M1886.98 410.5H1912.42M1886.98 416.16H1912.42" stroke="#000" stroke-width="1.5" fill="none"/>
<path d="M1973.78 258.69V318.9M1961.06 258.69H1986.5M1961.06 318.9H1986.5" stroke="#000" stroke-width="1.5" fill="none"/>
<circle cx="1899.7" cy="407.96" r="2.6" fill="#000"/>
<circle cx="1894.05" cy="417.57" r="2.6" fill="#000"/>
<circle cx="1905.92" cy="415.59" r="2.6" fill="#000"/>
<circle cx="1973.78" cy="229.85" r="2.6" fill="#000"/>
<circle cx="1973.78" cy="307.6" r="2.6" fill="#000"/>
<circle cx="1973.78" cy="328.8" r="2.6" fill="#000"/>
</g>
<g id="panel-f">
<text x="7.35" y="628.89" font-size="46" font-weight="bold" stroke="#000">f</text>
<rect x="59.26" y="628.21" width="25.67" height="13.23" fill="#1f6ab3" stroke="#000" stroke-width="2.6"/>
<text x="95.56" y="638.22" font-size="23.2" stroke="#000">scramble</text>
<rect x="59.26" y="653.65" width="25.67" height="13.51" fill="#e05a2b" stroke="#000" stroke-width="2.6"/>
<text x="95.56" y="667.06" font-size="23.2" stroke="#000">shSTN1-1</text>
<rect x="59.26" y="679.1" width="25.67" height="13.51" fill="#962b3c" stroke="#000" stroke-width="2.6"/>
<text x="95.56" y="694.76" font-size="23.2" stroke="#000">shSTN1-2</text>
<rect x="230.58" y="653.65" width="25.95" height="13.51" fill="#f5a832" stroke="#000" stroke-width="2.6"/>
<text x="265.19" y="667.06" font-size="23.2" stroke="#000">sh1-rescue</text>
<rect x="230.58" y="679.1" width="25.95" height="13.51" fill="#c2a266" stroke="#000" stroke-width="2.6"/>
<text x="265.19" y="694.76" font-size="23.2" stroke="#000">sh2-rescue</text>
<text x="157.47" y="725.01" font-size="20" stroke="#000">P = 0.0014</text>
<text x="192.25" y="770.25" font-size="20" stroke="#000">P = 0.0141</text>
<text x="147.01" y="823.4" font-size="20" stroke="#000">P = 0.0021</text>
<text x="251.62" y="823.4" font-size="20" stroke="#000">P = 0.0003</text>
<path d="M171.04 799.93V731.52H240.31V746.22" stroke="#000" stroke-width="1.8" fill="none"/>
<path d="M202.71 799.37V776.75H277.06V799.37" stroke="#000" stroke-width="1.8" fill="none"/>
<path d="M166.8 847.99V829.62H204.97V948.36" stroke="#000" stroke-width="1.8" fill="none"/>
<path d="M240.31 952.6V829.62H312.4V857.89" stroke="#000" stroke-width="1.8" fill="none"/>
<line x1="143.62" y1="774.87" x2="143.62" y2="1068.1299999999999" stroke="#000" stroke-width="3.2"/>
<line x1="130.9" y1="1066.53" x2="336.43" y2="1066.53" stroke="#000" stroke-width="3.2"/>
<line x1="130.9" y1="1066.53" x2="143.62" y2="1066.53" stroke="#000" stroke-width="3.2"/>
<text x="126.37" y="1074.33" font-size="22.5" stroke="#000" text-anchor="end">0.0</text>
<line x1="130.9" y1="969.84" x2="143.62" y2="969.84" stroke="#000" stroke-width="3.2"/>
<text x="126.37" y="977.64" font-size="22.5" stroke="#000" text-anchor="end">0.5</text>
<line x1="130.9" y1="873.16" x2="143.62" y2="873.16" stroke="#000" stroke-width="3.2"/>
<text x="126.37" y="880.96" font-size="22.5" stroke="#000" text-anchor="end">1.0</text>
<line x1="130.9" y1="776.47" x2="143.62" y2="776.47" stroke="#000" stroke-width="3.2"/>
<text x="126.37" y="784.27" font-size="22.5" stroke="#000" text-anchor="end">1.5</text>
<text x="66.44" y="939.03" font-size="23.1" stroke="#000" text-anchor="middle" transform="rotate(-90 66.44 939.03)">Relative luciferase activity</text>
<rect x="156.13" y="874.67" width="22.2" height="191.86" fill="#1f6ab3" stroke="#000" stroke-width="3.2"/>
<rect x="192.88" y="967.12" width="22.2" height="99.41" fill="#e05a2b" stroke="#000" stroke-width="3.2"/>
<rect x="229.64" y="963.73" width="21.63" height="102.8" fill="#962b3c" stroke="#000" stroke-width="3.2"/>
<rect x="266.11" y="910.58" width="21.63" height="155.95" fill="#f5a832" stroke="#000" stroke-width="3.2"/>
<rect x="302.29" y="880.89" width="21.63" height="185.64" fill="#c2a266" stroke="#000" stroke-width="3.2"/>
<path d="M167.37 861.56V884.18M160.87 861.56H173.87M160.87 884.18H173.87" stroke="#000" stroke-width="1.8" fill="none"/>
<path d="M203.56 958.82V971.82M197.06 958.82H210.06M197.06 971.82H210.06" stroke="#000" stroke-width="1.8" fill="none"/>
<path d="M240.31 960.23V963.91M233.81 960.23H246.81M233.81 963.91H246.81" stroke="#000" stroke-width="1.8" fill="none"/>
<path d="M276.5 896.9V920.65M270.0 896.9H283.0M270.0 920.65H283.0" stroke="#000" stroke-width="1.8" fill="none"/>
<path d="M312.97 872.03V886.16M306.47 872.03H319.47M306.47 886.16H319.47" stroke="#000" stroke-width="1.8" fill="none"/>
<circle cx="166.8" cy="854.5" r="3.0" fill="#000"/>
<circle cx="161.71" cy="889.55" r="3.0" fill="#000"/>
<circle cx="172.46" cy="884.18" r="3.0" fill="#000"/>
<circle cx="203.56" cy="954.01" r="3.0" fill="#000"/>
<circle cx="203.56" cy="969.56" r="3.0" fill="#000"/>
<circle cx="203.56" cy="976.07" r="3.0" fill="#000"/>
<circle cx="240.31" cy="958.25" r="3.0" fill="#000"/>
<circle cx="235.22" cy="962.49" r="3.0" fill="#000"/>
<circle cx="245.96" cy="963.06" r="3.0" fill="#000"/>
<circle cx="276.5" cy="885.31" r="3.0" fill="#000"/>
<circle cx="276.5" cy="915.85" r="3.0" fill="#000"/>
<circle cx="276.5" cy="924.33" r="3.0" fill="#000"/>
<circle cx="312.97" cy="869.2" r="3.0" fill="#000"/>
<circle cx="312.97" cy="881.92" r="3.0" fill="#000"/>
<circle cx="312.97" cy="893.23" r="3.0" fill="#000"/>
<text x="234.65" y="1101.59" font-size="23.3" stroke="#000" text-anchor="middle">MIA PaCa-2</text>
</g>
<g id="panel-g">
<text x="399.43" y="631.72" font-size="46" font-weight="bold" stroke="#000">g</text>
<rect x="573.94" y="635.18" width="36.05" height="19.37" fill="#1f6ab3" stroke="#000" stroke-width="2.4"/>
<text x="629.0" y="653.77" font-size="23.1" stroke="#000">pCDH-Ctrl</text>
<rect x="792.79" y="635.18" width="35.48" height="19.37" fill="#e05a2b" stroke="#000" stroke-width="2.4"/>
<text x="847.0" y="653.77" font-size="23.1" stroke="#000">pCDH-STN1</text>
<line x1="525.24" y1="737.4" x2="525.24" y2="918.16" stroke="#000" stroke-width="1.8"/>
<line x1="525.24" y1="934.74" x2="525.24" y2="979.46" stroke="#000" stroke-width="1.8"/>
<line x1="515.91" y1="738.3" x2="525.24" y2="738.3" stroke="#000" stroke-width="1.8"/>
<line x1="515.91" y1="802.19" x2="525.24" y2="802.19" stroke="#000" stroke-width="1.8"/>
<line x1="515.91" y1="866.37" x2="525.24" y2="866.37" stroke="#000" stroke-width="1.8"/>
<line x1="519.31" y1="917.26" x2="531.18" y2="917.26" stroke="#000" stroke-width="1.8"/>
<line x1="517.33" y1="935.64" x2="531.18" y2="935.64" stroke="#000" stroke-width="1.8"/>
<line x1="515.91" y1="979.46" x2="791.0" y2="979.46" stroke="#000" stroke-width="1.8"/>
<line x1="515.91" y1="980.76" x2="791.0" y2="980.76" stroke="#000" stroke-width="1" stroke-dasharray="1.2 1.2"/>
<line x1="585.74" y1="979.46" x2="585.74" y2="989.35" stroke="#000" stroke-width="1.8"/>
<line x1="727.95" y1="979.46" x2="727.95" y2="989.35" stroke="#000" stroke-width="1.8"/>
<text x="510.82" y="746.22" font-size="23.8" stroke="#000" text-anchor="end">1.5</text>
<text x="510.82" y="809.83" font-size="23.8" stroke="#000" text-anchor="end">1.0</text>
<text x="510.82" y="874.0" font-size="23.8" stroke="#000" text-anchor="end">0.5</text>
<text x="510.82" y="944.68" font-size="23.8" stroke="#000" text-anchor="end">0.03</text>
<text x="510.82" y="985.96" font-size="23.8" stroke="#000" text-anchor="end">0.00</text>
<line x1="854.92" y1="732.59" x2="854.92" y2="919.01" stroke="#000" stroke-width="1.8"/>
<line x1="854.92" y1="935.58" x2="854.92" y2="982.28" stroke="#000" stroke-width="1.8"/>
<line x1="844.46" y1="733.49" x2="854.92" y2="733.49" stroke="#000" stroke-width="1.8"/>
<line x1="844.46" y1="782.12" x2="854.92" y2="782.12" stroke="#000" stroke-width="1.8"/>
<line x1="844.46" y1="831.03" x2="854.92" y2="831.03" stroke="#000" stroke-width="1.8"/>
<line x1="844.46" y1="879.66" x2="854.92" y2="879.66" stroke="#000" stroke-width="1.8"/>
<line x1="848.98" y1="918.11" x2="860.86" y2="918.11" stroke="#000" stroke-width="1.8"/>
<line x1="845.87" y1="936.48" x2="860.86" y2="936.48" stroke="#000" stroke-width="1.8"/>
<line x1="845.59" y1="982.28" x2="1120.11" y2="982.28" stroke="#000" stroke-width="1.8"/>
<line x1="845.59" y1="983.58" x2="1120.11" y2="983.58" stroke="#000" stroke-width="1" stroke-dasharray="1.2 1.2"/>
<line x1="916.55" y1="982.28" x2="916.55" y2="992.18" stroke="#000" stroke-width="1.8"/>
<line x1="1057.91" y1="982.28" x2="1057.91" y2="992.18" stroke="#000" stroke-width="1.8"/>
<text x="839.37" y="739.71" font-size="23.8" stroke="#000" text-anchor="end">20</text>
<text x="839.37" y="788.62" font-size="23.8" stroke="#000" text-anchor="end">15</text>
<text x="839.37" y="840.93" font-size="23.8" stroke="#000" text-anchor="end">10</text>
<text x="839.37" y="890.4" font-size="23.8" stroke="#000" text-anchor="end">5</text>
<text x="839.37" y="944.68" font-size="23.8" stroke="#000" text-anchor="end">0.1</text>
<text x="839.37" y="989.92" font-size="23.8" stroke="#000" text-anchor="end">0.0</text>
<text x="446.93" y="857.89" font-size="23.4" stroke="#000" text-anchor="middle" transform="rotate(-90 446.93 857.89)">Percentage of input(%)</text>
<text x="542.21" y="760.35" font-size="20" stroke="#000">P &lt; 0.0001</text>
<text x="726.26" y="758.94" font-size="22.3" stroke="#000" text-anchor="middle">ns</text>
<text x="871.32" y="729.82" font-size="20" stroke="#000">P = 0.0002</text>
<text x="1054.52" y="726.99" font-size="22.3" stroke="#000" text-anchor="middle">ns</text>
<path d="M559.73 946.95V770.25H613.45V782.97" stroke="#000" stroke-width="1.4" fill="none"/>
<path d="M703.36 901.15V768.83H752.83V920.09" stroke="#000" stroke-width="1" fill="none"/>
<path d="M890.26 963.91V737.73H943.41V749.61" stroke="#000" stroke-width="1.4" fill="none"/>
<path d="M1032.18 966.74V737.73H1084.77V945.53" stroke="#000" stroke-width="1.4" fill="none"/>
<rect x="543.21" y="971.54" width="33.34" height="7.92" fill="#1f6ab3" stroke="#000" stroke-width="2"/>
<rect x="596.92" y="805.59" width="33.06" height="173.87" fill="#e05a2b" stroke="#000" stroke-width="2"/>
<rect x="685.7" y="947.79" width="32.77" height="31.67" fill="#1f6ab3" stroke="#000" stroke-width="2"/>
<rect x="738.85" y="963.34" width="32.77" height="16.12" fill="#e05a2b" stroke="#000" stroke-width="2"/>
<rect x="873.73" y="978.04" width="33.06" height="4.24" fill="#1f6ab3" stroke="#000" stroke-width="2"/>
<rect x="926.6" y="775.05" width="33.34" height="207.23" fill="#e05a2b" stroke="#000" stroke-width="2"/>
<rect x="1015.65" y="980.87" width="33.34" height="1.41" fill="#1f6ab3" stroke="#000" stroke-width="2"/>
<rect x="1068.52" y="974.37" width="33.34" height="7.91" fill="#e05a2b" stroke="#000" stroke-width="2"/>
<rect x="593.66" y="917.83" width="39.58" height="17.25" fill="#fff" stroke="none" stroke-width="0"/>
<rect x="923.34" y="919.24" width="39.58" height="16.4" fill="#fff" stroke="none" stroke-width="0"/>
<path d="M559.73 965.32V976.63M550.4 965.32H569.06M550.4 976.63H569.06" stroke="#000" stroke-width="1.4" fill="none"/>
<path d="M613.45 799.93V811.24M604.12 799.93H622.78M604.12 811.24H622.78" stroke="#000" stroke-width="1.4" fill="none"/>
<path d="M701.94 940.73V954.86M692.61 940.73H711.27M692.61 954.86H711.27" stroke="#000" stroke-width="1.4" fill="none"/>
<path d="M755.37 955.99V970.98M746.04 955.99H764.7M746.04 970.98H764.7" stroke="#000" stroke-width="1.4" fill="none"/>
<path d="M943.41 763.18V785.8M934.08 763.18H952.74M934.08 785.8H952.74" stroke="#000" stroke-width="1.4" fill="none"/>
<path d="M890.26 976.63V978.89M880.93 976.63H899.59M880.93 978.89H899.59" stroke="#000" stroke-width="1.4" fill="none"/>
<path d="M1084.77 965.32V982.28M1075.44 965.32H1094.1M1075.44 982.28H1094.1" stroke="#000" stroke-width="1.4" fill="none"/>
<circle cx="559.73" cy="959.1" r="2.2" fill="#000"/>
<circle cx="556.34" cy="977.48" r="2.2" fill="#000"/>
<circle cx="563.98" cy="976.07" r="2.2" fill="#000"/>
<circle cx="612.89" cy="795.13" r="2.2" fill="#000"/>
<circle cx="612.89" cy="809.26" r="2.2" fill="#000"/>
<circle cx="612.89" cy="813.5" r="2.2" fill="#000"/>
<circle cx="698.27" cy="954.86" r="2.2" fill="#000"/>
<circle cx="706.18" cy="954.01" r="2.2" fill="#000"/>
<circle cx="755.37" cy="951.19" r="2.2" fill="#000"/>
<circle cx="755.37" cy="963.06" r="2.2" fill="#000"/>
<circle cx="755.37" cy="976.63" r="2.2" fill="#000"/>
<circle cx="881.78" cy="978.61" r="2.2" fill="#000"/>
<circle cx="890.26" cy="976.07" r="2.2" fill="#000"/>
<circle cx="898.18" cy="978.61" r="2.2" fill="#000"/>
<circle cx="938.89" cy="761.77" r="2.2" fill="#000"/>
<circle cx="947.65" cy="765.44" r="2.2" fill="#000"/>
<circle cx="943.41" cy="796.54" r="2.2" fill="#000"/>
<circle cx="1023.7" cy="980.87" r="2.2" fill="#000"/>
<circle cx="1031.62" cy="979.46" r="2.2" fill="#000"/>
<circle cx="1039.53" cy="980.87" r="2.2" fill="#000"/>
<circle cx="1084.77" cy="958.25" r="2.2" fill="#000"/>
<circle cx="1080.53" cy="982.28" r="2.2" fill="#000"/>
<circle cx="1089.01" cy="980.02" r="2.2" fill="#000"/>
<text x="492.73" y="1019.04" font-size="23.95" stroke="#000"><tspan font-style="italic">ZEB1</tspan>-promoter</text>
<text x="670.56" y="1019.04" font-size="23.95" stroke="#000"><tspan font-style="italic">ACTB</tspan> locus</text>
<text x="845.02" y="1019.04" font-size="23.95" stroke="#000"><tspan font-style="italic">ZEB1</tspan>-promoter</text>
<text x="1024.55" y="1019.04" font-size="23.95" stroke="#000"><tspan font-style="italic">ACTB</tspan> locus</text>
<text x="660.38" y="1061.45" font-size="23.3" stroke="#000" text-anchor="middle">PANC-1</text>
<text x="997.69" y="1061.45" font-size="23.3" stroke="#000" text-anchor="middle">MIA PaCa-2</text>
</g>
<g id="panel-h">
<text x="1132.83" y="630.3" font-size="46" font-weight="bold" stroke="#000">h</text>
<text x="1178.27" y="687.5" font-size="24" stroke="#000">MW(kDa)</text>
<text x="1329.53" y="687.5" font-size="23" stroke="#000">Vector</text>
<text x="1407.84" y="687.5" font-size="23.1" stroke="#000">HA-STN1</text>
<text x="1249.52" y="770.05" font-size="24" stroke="#000" text-anchor="end">130-</text>
<text x="1249.52" y="804.54" font-size="24" stroke="#000" text-anchor="end">110-</text>
<text x="1249.52" y="834.23" font-size="24" stroke="#000" text-anchor="end">70-</text>
<text x="1249.52" y="869.57" font-size="24" stroke="#000" text-anchor="end">55-</text>
<text x="1249.52" y="899.25" font-size="24" stroke="#000" text-anchor="end">40-</text>
<text x="1249.52" y="934.59" font-size="24" stroke="#000" text-anchor="end">35-</text>
<text x="1249.52" y="960.04" font-size="24" stroke="#000" text-anchor="end">25-</text>
<text x="1249.52" y="994.53" font-size="24" stroke="#000" text-anchor="end">10-</text>
<linearGradient id="gelbg" x1="0" y1="0" x2="1" y2="0"><stop offset="0" stop-color="#e9dfd0"/><stop offset="0.12" stop-color="#eee7dc"/><stop offset="0.5" stop-color="#f1ece4"/><stop offset="0.88" stop-color="#efe8dd"/><stop offset="1" stop-color="#ece2d5"/></linearGradient>
<clipPath id="bc5"><rect x="1250.36" y="697.39" width="228.16" height="320.88"/></clipPath>
<rect x="1250.36" y="697.39" width="228.16" height="320.88" fill="url(#gelbg)"/>
<g clip-path="url(#bc5)">
<rect x="1257.44" y="696.54" width="33.93" height="282.72" rx="4" ry="4" fill="#d9c6ac" opacity="0.22" filter="url(#bl6)"/>
<rect x="1256.73" y="819.52" width="35.34" height="31.1" rx="15.55" ry="15.55" fill="#b08a58" opacity="0.35" filter="url(#bl5)"/>
<rect x="1258.57" y="763.41" width="31.66" height="2.54" rx="1.27" ry="1.27" fill="#7a6858" opacity="0.9" filter="url(#bl1)"/>
<rect x="1258.29" y="797.76" width="32.23" height="4.52" rx="2.26" ry="2.26" fill="#6c564c" opacity="0.9" filter="url(#bl1.5)"/>
<rect x="1257.15" y="826.32" width="35.62" height="9.61" rx="4.8" ry="4.8" fill="#754508" opacity="1" filter="url(#bl1.5)"/>
<rect x="1256.59" y="824.05" width="36.75" height="14.14" rx="7.07" ry="7.07" fill="#8a5a1c" opacity="0.5" filter="url(#bl3)"/>
<rect x="1258.29" y="860.8" width="32.23" height="4.52" rx="2.26" ry="2.26" fill="#7e6668" opacity="0.9" filter="url(#bl1.5)"/>
<rect x="1258.57" y="894.31" width="31.66" height="3.11" rx="1.55" ry="1.55" fill="#76553a" opacity="0.9" filter="url(#bl1)"/>
<rect x="1258.85" y="926.96" width="31.1" height="3.96" rx="1.98" ry="1.98" fill="#856552" opacity="0.9" filter="url(#bl1.5)"/>
<rect x="1259.13" y="951.7" width="28.84" height="2.54" rx="1.27" ry="1.27" fill="#b3a092" opacity="0.8" filter="url(#bl1.5)"/>
<rect x="1258.7" y="988.03" width="26.86" height="2.83" rx="1.42" ry="1.42" fill="#cfd2dc" opacity="0.8" filter="url(#bl2)"/>
<rect x="1255.31" y="1006.82" width="32.51" height="1.98" rx="0.99" ry="0.99" fill="#d0984c" opacity="0.9" filter="url(#bl1)"/>
<ellipse cx="1362.04" cy="714.92" rx="15.27" ry="0.99" fill="#93450f" opacity="1" filter="url(#bl1)"/>
<ellipse cx="1364.02" cy="888.51" rx="13.43" ry="1.27" fill="#cf8636" opacity="0.85" filter="url(#bl1)"/>
<rect x="1345.77" y="697.96" width="29.69" height="19.79" rx="9.89" ry="9.89" fill="#d8c6ad" opacity="0.25" filter="url(#bl3)"/>
<rect x="1436.68" y="696.54" width="31.66" height="237.48" rx="4" ry="4" fill="#e3c29c" opacity="0.28" filter="url(#bl5)"/>
<rect x="1435.26" y="696.4" width="31.66" height="97.54" rx="3" ry="3" fill="#d4802a" opacity="0.85" filter="url(#bl2.5)"/>
<rect x="1437.53" y="794.08" width="29.97" height="31.1" rx="3" ry="3" fill="#dc9850" opacity="0.45" filter="url(#bl3)"/>
<rect x="1435.55" y="698.25" width="29.97" height="5.65" rx="2.83" ry="2.83" fill="#8c3d06" opacity="1" filter="url(#bl1.5)"/>
<rect x="1435.26" y="708.13" width="30.53" height="5.09" rx="2.54" ry="2.54" fill="#b85c12" opacity="0.85" filter="url(#bl2)"/>
<rect x="1435.26" y="717.18" width="30.53" height="5.65" rx="2.83" ry="2.83" fill="#b4560e" opacity="0.85" filter="url(#bl2)"/>
<rect x="1435.82" y="728.77" width="30.53" height="3.39" rx="1.7" ry="1.7" fill="#c46a18" opacity="0.6" filter="url(#bl2)"/>
<rect x="1435.82" y="738.95" width="30.53" height="2.83" rx="1.42" ry="1.42" fill="#c0661a" opacity="0.6" filter="url(#bl2)"/>
<rect x="1436.11" y="752.24" width="31.1" height="2.83" rx="1.42" ry="1.42" fill="#b85e12" opacity="0.65" filter="url(#bl1.5)"/>
<rect x="1436.11" y="762.7" width="31.1" height="3.39" rx="1.7" ry="1.7" fill="#bd6214" opacity="0.6" filter="url(#bl2)"/>
<rect x="1436.11" y="771.18" width="31.66" height="3.39" rx="1.7" ry="1.7" fill="#b85c10" opacity="0.7" filter="url(#bl2)"/>
<rect x="1435.83" y="777.68" width="32.23" height="3.96" rx="1.98" ry="1.98" fill="#a85008" opacity="0.95" filter="url(#bl1.5)"/>
<rect x="1436.39" y="784.75" width="32.23" height="5.09" rx="2.54" ry="2.54" fill="#ad540a" opacity="0.95" filter="url(#bl1.5)"/>
<rect x="1436.68" y="792.67" width="31.66" height="4.52" rx="2.26" ry="2.26" fill="#c87220" opacity="0.7" filter="url(#bl2)"/>
<rect x="1437.8" y="803.98" width="30.53" height="2.26" rx="1.13" ry="1.13" fill="#a85a20" opacity="0.85" filter="url(#bl1.5)"/>
<rect x="1438.93" y="808.22" width="28.27" height="8.48" rx="4.24" ry="4.24" fill="#dca470" opacity="0.5" filter="url(#bl3)"/>
<rect x="1440.07" y="827.72" width="27.71" height="2.26" rx="1.13" ry="1.13" fill="#d29c68" opacity="0.6" filter="url(#bl2)"/>
<rect x="1440.07" y="836.77" width="27.71" height="2.26" rx="1.13" ry="1.13" fill="#dcb088" opacity="0.5" filter="url(#bl2)"/>
<rect x="1440.07" y="849.21" width="27.71" height="2.83" rx="1.42" ry="1.42" fill="#d8a878" opacity="0.6" filter="url(#bl2)"/>
<rect x="1440.63" y="857.7" width="27.71" height="2.83" rx="1.42" ry="1.42" fill="#d8a878" opacity="0.6" filter="url(#bl2)"/>
<rect x="1440.63" y="868.44" width="27.71" height="2.26" rx="1.13" ry="1.13" fill="#dcb088" opacity="0.5" filter="url(#bl2)"/>
<rect x="1440.07" y="879.18" width="28.84" height="2.26" rx="1.13" ry="1.13" fill="#c88848" opacity="0.75" filter="url(#bl1.5)"/>
<rect x="1434.98" y="886.52" width="37.88" height="9.05" rx="4.53" ry="4.53" fill="#dc8210" opacity="1" filter="url(#bl2)"/>
<rect x="1435.83" y="887.38" width="36.19" height="2.83" rx="1.42" ry="1.42" fill="#c06808" opacity="0.8" filter="url(#bl1.5)"/>
<rect x="1436.96" y="894.16" width="33.93" height="3.39" rx="1.7" ry="1.7" fill="#e8a030" opacity="0.7" filter="url(#bl2)"/>
<rect x="1439.22" y="900.95" width="30.53" height="2.26" rx="1.13" ry="1.13" fill="#cc843a" opacity="0.8" filter="url(#bl1.5)"/>
<rect x="1440.35" y="907.87" width="28.84" height="1.98" rx="0.99" ry="0.99" fill="#bc7634" opacity="0.85" filter="url(#bl1.5)"/>
<rect x="1440.91" y="923.0" width="27.71" height="2.26" rx="1.13" ry="1.13" fill="#e0c0a0" opacity="0.6" filter="url(#bl2)"/>
</g>
<line x1="1484.21" y1="828.85" x2="1520.36" y2="828.85" stroke="#000" stroke-width="1.5"/>
<path d="M1480.21 828.85 L1493.21 822.85 L1489.71 828.85 L1493.21 834.85 Z" fill="#000"/>
<line x1="1484.21" y1="894.45" x2="1520.36" y2="894.45" stroke="#000" stroke-width="1.5"/>
<path d="M1480.21 894.45 L1493.21 888.45 L1489.71 894.45 L1493.21 900.45 Z" fill="#000"/>
<text x="1524.6" y="839.88" font-size="21.5" stroke="#000">STAT3</text>
<text x="1524.6" y="901.51" font-size="21.5" stroke="#000">HA-STN1</text>
</g>
<g id="panel-i">
<text x="1598.89" y="630.3" font-size="46" font-weight="bold" stroke="#000">i</text>
<text x="1777.29" y="621.26" font-size="21.5" fill="#1a1a1a" stroke="#1a1a1a" text-anchor="middle">input</text>
<text x="1916.1" y="622.67" font-size="21.5" fill="#1a1a1a" stroke="#1a1a1a" text-anchor="middle">IP</text>
<line x1="1713.11" y1="629.74" x2="1833.83" y2="629.74" stroke="#1a1a1a" stroke-width="2.3"/>
<line x1="1856.73" y1="629.74" x2="1976.89" y2="629.74" stroke="#1a1a1a" stroke-width="2.3"/>
<text x="1575.99" y="712.86" font-size="21.8" fill="#1a1a1a" stroke="#1a1a1a">MW(kDa)</text>
<text x="1715.94" y="742.82" font-size="21.5" fill="#1a1a1a" stroke="#1a1a1a" transform="rotate(-46 1715.94 742.82)">PCDH-Ctrl</text>
<text x="1758.35" y="742.82" font-size="21.5" fill="#1a1a1a" stroke="#1a1a1a" transform="rotate(-46 1758.35 742.82)">PCDH-STN1</text>
<text x="1833.27" y="742.82" font-size="21.5" fill="#1a1a1a" stroke="#1a1a1a" transform="rotate(-46 1833.27 742.82)">PCDH-Ctrl</text>
<text x="1882.74" y="742.82" font-size="21.5" fill="#1a1a1a" stroke="#1a1a1a" transform="rotate(-46 1882.74 742.82)">PCDH-STN1</text>
<text x="1674.1" y="761.2" font-size="21.8" fill="#1a1a1a" stroke="#1a1a1a" text-anchor="end">130-</text>
<text x="1674.1" y="808.41" font-size="21.8" fill="#1a1a1a" stroke="#1a1a1a" text-anchor="end">70-</text>
<text x="1674.1" y="905.95" font-size="21.8" fill="#1a1a1a" stroke="#1a1a1a" text-anchor="end">40-</text>
<text x="1674.1" y="990.77" font-size="21.8" fill="#1a1a1a" stroke="#1a1a1a" text-anchor="end">35-</text>
<text x="1922.89" y="795.13" font-size="21.8" fill="#1a1a1a" stroke="#1a1a1a">-Flag-STAT3</text>
<text x="1922.89" y="881.92" font-size="21.8" fill="#1a1a1a" stroke="#1a1a1a">-HA-STN1</text>
<text x="1922.89" y="980.31" font-size="21.8" fill="#1a1a1a" stroke="#1a1a1a">-GAPDH</text>
<radialGradient id="ibg" cx="0.5" cy="0.5" r="0.75"><stop offset="0" stop-color="#bababa"/><stop offset="1" stop-color="#a9a9a9"/></radialGradient>
<clipPath id="bc6"><rect x="1673.53" y="748.48" width="247.94" height="79.72"/></clipPath>
<rect x="1673.53" y="748.48" width="247.94" height="79.72" fill="url(#ibg)"/>
<g clip-path="url(#bc6)">
<rect x="1688.79" y="778.45" width="40.15" height="37.32" rx="14.14" ry="14.14" fill="#101010" opacity="1" filter="url(#bl2.5)"/>
<rect x="1732.9" y="771.8" width="42.41" height="46.65" rx="15.55" ry="15.55" fill="#101010" opacity="1" filter="url(#bl2.5)"/>
<rect x="1731.77" y="781.56" width="44.67" height="31.1" rx="14.14" ry="14.14" fill="#101010" opacity="1" filter="url(#bl2.5)"/>
<rect x="1711.7" y="782.26" width="42.41" height="29.69" rx="12.72" ry="12.72" fill="#101010" opacity="1" filter="url(#bl3)"/>
<rect x="1739.4" y="760.63" width="31.1" height="3.96" rx="1.98" ry="1.98" fill="#101010" opacity="0.5" filter="url(#bl2)"/>
<rect x="1739.4" y="764.6" width="31.1" height="11.31" rx="5.66" ry="5.66" fill="#101010" opacity="0.35" filter="url(#bl3)"/>
<rect x="1694.45" y="761.2" width="6.22" height="2.26" rx="1.13" ry="1.13" fill="#101010" opacity="0.15" filter="url(#bl2)"/>
<rect x="1718.48" y="762.05" width="6.22" height="2.26" rx="1.13" ry="1.13" fill="#101010" opacity="0.1" filter="url(#bl2)"/>
<ellipse cx="1827.61" cy="788.06" rx="8.2" ry="1.55" fill="#101010" opacity="0.7" filter="url(#bl1.5)"/>
<rect x="1829.02" y="787.91" width="22.62" height="1.41" rx="0.7" ry="0.7" fill="#101010" opacity="0.3" filter="url(#bl1.5)"/>
<ellipse cx="1781.53" cy="788.62" rx="3.11" ry="0.99" fill="#101010" opacity="0.3" filter="url(#bl2)"/>
<ellipse cx="1882.74" cy="787.78" rx="17.25" ry="2.26" fill="#101010" opacity="0.9" filter="url(#bl1.5)"/>
<ellipse cx="1889.81" cy="787.49" rx="11.31" ry="3.81" fill="#101010" opacity="0.95" filter="url(#bl2)"/>
</g>
<rect x="1673.53" y="748.48" width="247.94" height="79.72" fill="none" stroke="#2a2a2a" stroke-width="1.6"/>
<clipPath id="bc7"><rect x="1673.53" y="839.51" width="247.94" height="79.73"/></clipPath>
<rect x="1673.53" y="839.51" width="247.94" height="79.73" fill="url(#ibg)"/>
<g clip-path="url(#bc7)">
<rect x="1731.2" y="877.69" width="37.32" height="9.61" rx="4.8" ry="4.8" fill="#101010" opacity="1" filter="url(#bl2.5)"/>
<ellipse cx="1817.72" cy="876.55" rx="4.24" ry="0.99" fill="#101010" opacity="0.5" filter="url(#bl1.5)"/>
<rect x="1820.54" y="876.54" width="14.14" height="1.13" rx="0.56" ry="0.56" fill="#101010" opacity="0.15" filter="url(#bl1.5)"/>
<rect x="1853.62" y="867.5" width="52.59" height="17.53" rx="8.77" ry="8.77" fill="#101010" opacity="1" filter="url(#bl2.5)"/>
<rect x="1861.25" y="887.3" width="40.15" height="9.61" rx="4.8" ry="4.8" fill="#101010" opacity="1" filter="url(#bl2.5)"/>
<rect x="1864.93" y="880.51" width="31.1" height="8.48" rx="4.24" ry="4.24" fill="#101010" opacity="0.9" filter="url(#bl2.5)"/>
</g>
<rect x="1673.53" y="839.51" width="247.94" height="79.73" fill="none" stroke="#2a2a2a" stroke-width="1.6"/>
<clipPath id="bc8"><rect x="1673.53" y="935.64" width="247.94" height="80.57"/></clipPath>
<rect x="1673.53" y="935.64" width="247.94" height="80.57" fill="url(#ibg)"/>
<g clip-path="url(#bc8)">
<rect x="1687.11" y="963.91" width="42.41" height="18.66" rx="9.33" ry="9.33" fill="#101010" opacity="1" filter="url(#bl2.5)"/>
<rect x="1731.35" y="963.63" width="40.99" height="19.22" rx="9.61" ry="9.61" fill="#101010" opacity="1" filter="url(#bl2.5)"/>
<rect x="1710.28" y="967.02" width="39.58" height="12.44" rx="6.22" ry="6.22" fill="#101010" opacity="1" filter="url(#bl2.5)"/>
<rect x="1740.12" y="998.69" width="24.03" height="2.83" rx="1.42" ry="1.42" fill="#101010" opacity="0.6" filter="url(#bl2)"/>
<rect x="1740.12" y="985.68" width="24.03" height="11.31" rx="5.66" ry="5.66" fill="#101010" opacity="0.25" filter="url(#bl3)"/>
<rect x="1698.12" y="999.39" width="19.79" height="1.98" rx="0.99" ry="0.99" fill="#101010" opacity="0.12" filter="url(#bl2)"/>
</g>
<rect x="1673.53" y="935.64" width="247.94" height="80.57" fill="none" stroke="#2a2a2a" stroke-width="1.6"/>
</g>
<g id="panel-j">
<text x="64.5" y="1158.5" font-size="46" font-weight="bold" stroke="#000">j</text>
<rect x="119.15" y="1160.38" width="31.33" height="15.78" fill="#1f6ab3" stroke="#000" stroke-width="2.6"/>
<text x="159.55" y="1176.05" font-size="23.2" stroke="#000">scramble</text>
<rect x="119.15" y="1200.32" width="31.33" height="15.78" fill="#e05a2b" stroke="#000" stroke-width="2.6"/>
<text x="155.31" y="1215.98" font-size="23.2" stroke="#000">shSTN1-1</text>
<rect x="329.07" y="1200.32" width="31.68" height="15.78" fill="#f5a832" stroke="#000" stroke-width="2.6"/>
<text x="366.29" y="1215.98" font-size="23.2" stroke="#000">sh1-rescue</text>
<text x="215.39" y="1240.72" font-size="19.6" stroke="#000">P &lt; 0.0001</text>
<text x="182.52" y="1289.49" font-size="19.6" stroke="#000">P &lt; 0.0001</text>
<path d="M253.2 1265.46V1247.79H282.53V1332.6" stroke="#000" stroke-width="2.0" fill="none"/>
<path d="M222.1 1418.12V1295.49H253.91V1556.3" stroke="#000" stroke-width="2.0" fill="none"/>
<line x1="200.05" y1="1333.32" x2="200.05" y2="1585.26" stroke="#000" stroke-width="3.5"/>
<line x1="200.05" y1="1608.27" x2="200.05" y2="1637.58" stroke="#000" stroke-width="3.5"/>
<line x1="184.29" y1="1335.07" x2="200.05" y2="1335.07" stroke="#000" stroke-width="3.5"/>
<line x1="184.29" y1="1405.75" x2="200.05" y2="1405.75" stroke="#000" stroke-width="3.5"/>
<line x1="184.29" y1="1476.79" x2="200.05" y2="1476.79" stroke="#000" stroke-width="3.5"/>
<line x1="184.29" y1="1547.47" x2="200.05" y2="1547.47" stroke="#000" stroke-width="3.5"/>
<line x1="191.36" y1="1583.51" x2="210.8" y2="1583.51" stroke="#000" stroke-width="3.5"/>
<line x1="191.36" y1="1610.02" x2="210.8" y2="1610.02" stroke="#000" stroke-width="3.5"/>
<line x1="186.06" y1="1637.58" x2="652.54" y2="1637.58" stroke="#000" stroke-width="3.5"/>
<line x1="252.5" y1="1637.58" x2="252.5" y2="1650.66" stroke="#000" stroke-width="3.5"/>
<line x1="368.06" y1="1637.58" x2="368.06" y2="1650.66" stroke="#000" stroke-width="3.5"/>
<line x1="483.97" y1="1637.58" x2="483.97" y2="1650.66" stroke="#000" stroke-width="3.5"/>
<line x1="600.24" y1="1637.58" x2="600.24" y2="1650.66" stroke="#000" stroke-width="3.5"/>
<text x="176.52" y="1342.14" font-size="23.3" stroke="#000" text-anchor="end">0.8</text>
<text x="176.52" y="1413.18" font-size="23.3" stroke="#000" text-anchor="end">0.6</text>
<text x="176.52" y="1484.21" font-size="23.3" stroke="#000" text-anchor="end">0.4</text>
<text x="176.52" y="1554.89" font-size="23.3" stroke="#000" text-anchor="end">0.2</text>
<text x="181.82" y="1615.32" font-size="23.3" stroke="#000" text-anchor="end">0.05</text>
<text x="181.82" y="1646.06" font-size="23.3" stroke="#000" text-anchor="end">0.00</text>
<text x="117.5" y="1490.57" font-size="23.2" stroke="#000" text-anchor="middle" transform="rotate(-90 117.5 1490.57)">Percentage of input(%)</text>
<rect x="212.21" y="1454.97" width="19.19" height="182.61" fill="#1f6ab3" stroke="#000" stroke-width="3.3"/>
<rect x="243.3" y="1567.0" width="19.55" height="70.58" fill="#e05a2b" stroke="#000" stroke-width="3.3"/>
<rect x="275.11" y="1356.73" width="19.2" height="280.85" fill="#f5a832" stroke="#000" stroke-width="3.3"/>
<rect x="205.49" y="1584.57" width="95.42" height="24.38" fill="#fff" stroke="none" stroke-width="0"/>
<rect x="444.54" y="1633.99" width="18.13" height="3.59" fill="#1f6ab3" stroke="#000" stroke-width="2.6"/>
<rect x="475.64" y="1632.58" width="18.84" height="5.0" fill="#e05a2b" stroke="#000" stroke-width="2.6"/>
<rect x="507.44" y="1629.75" width="18.84" height="7.83" fill="#f5a832" stroke="#000" stroke-width="2.6"/>
<rect x="559.39" y="1631.52" width="19.2" height="6.06" fill="#1f6ab3" stroke="#000" stroke-width="2.6"/>
<rect x="590.49" y="1630.81" width="18.84" height="6.77" fill="#e05a2b" stroke="#000" stroke-width="2.6"/>
<rect x="621.94" y="1635.76" width="19.2" height="1.82" fill="#f5a832" stroke="#000" stroke-width="2.6"/>
<path d="M222.1 1449.22V1459.12M215.74 1449.22H228.46M215.74 1459.12H228.46" stroke="#000" stroke-width="1.8" fill="none"/>
<path d="M253.2 1562.31V1570.08M246.84 1562.31H259.56M246.84 1570.08H259.56" stroke="#000" stroke-width="1.8" fill="none"/>
<path d="M284.3 1350.98V1360.87M277.94 1350.98H290.66M277.94 1360.87H290.66" stroke="#000" stroke-width="1.8" fill="none"/>
<path d="M516.48 1624.15V1634.75M510.12 1624.15H522.84M510.12 1634.75H522.84" stroke="#000" stroke-width="1.8" fill="none"/>
<path d="M568.79 1629.1V1632.63M562.43 1629.1H575.15M562.43 1632.63H575.15" stroke="#000" stroke-width="1.8" fill="none"/>
<path d="M600.24 1628.39V1632.63M593.88 1628.39H606.6M593.88 1632.63H606.6" stroke="#000" stroke-width="1.8" fill="none"/>
<circle cx="221.4" cy="1444.98" r="3.0" fill="#000"/>
<circle cx="217.86" cy="1455.58" r="3.0" fill="#000"/>
<circle cx="226.7" cy="1455.58" r="3.0" fill="#000"/>
<circle cx="246.13" cy="1561.25" r="3.0" fill="#000"/>
<circle cx="260.27" cy="1563.01" r="3.0" fill="#000"/>
<circle cx="253.2" cy="1571.85" r="3.0" fill="#000"/>
<circle cx="284.3" cy="1346.74" r="3.0" fill="#000"/>
<circle cx="280.77" cy="1359.11" r="3.0" fill="#000"/>
<circle cx="286.07" cy="1361.93" r="3.0" fill="#000"/>
<circle cx="330.95" cy="1637.23" r="3.0" fill="#000"/>
<circle cx="338.02" cy="1637.23" r="3.0" fill="#000"/>
<circle cx="345.09" cy="1637.23" r="3.0" fill="#000"/>
<circle cx="362.05" cy="1637.23" r="3.0" fill="#000"/>
<circle cx="369.12" cy="1637.93" r="3.0" fill="#000"/>
<circle cx="376.18" cy="1637.23" r="3.0" fill="#000"/>
<circle cx="393.5" cy="1637.23" r="3.0" fill="#000"/>
<circle cx="400.57" cy="1635.81" r="3.0" fill="#000"/>
<circle cx="407.64" cy="1636.52" r="3.0" fill="#000"/>
<circle cx="446.51" cy="1635.46" r="3.0" fill="#000"/>
<circle cx="453.58" cy="1632.28" r="3.0" fill="#000"/>
<circle cx="459.94" cy="1634.75" r="3.0" fill="#000"/>
<circle cx="478.32" cy="1634.05" r="3.0" fill="#000"/>
<circle cx="485.38" cy="1631.22" r="3.0" fill="#000"/>
<circle cx="492.45" cy="1632.28" r="3.0" fill="#000"/>
<circle cx="516.48" cy="1619.56" r="3.0" fill="#000"/>
<circle cx="512.95" cy="1636.52" r="3.0" fill="#000"/>
<circle cx="520.02" cy="1636.52" r="3.0" fill="#000"/>
<circle cx="562.42" cy="1631.93" r="3.0" fill="#000"/>
<circle cx="568.79" cy="1628.39" r="3.0" fill="#000"/>
<circle cx="575.85" cy="1631.93" r="3.0" fill="#000"/>
<circle cx="593.52" cy="1629.45" r="3.0" fill="#000"/>
<circle cx="600.24" cy="1633.69" r="3.0" fill="#000"/>
<circle cx="607.31" cy="1629.45" r="3.0" fill="#000"/>
<circle cx="625.33" cy="1636.52" r="3.0" fill="#000"/>
<circle cx="632.04" cy="1634.05" r="3.0" fill="#000"/>
<circle cx="639.11" cy="1635.81" r="3.0" fill="#000"/>
<text x="353.92" y="1566.55" font-size="26.8" stroke="#000" text-anchor="middle">ns</text>
<text x="383.96" y="1525.2" font-size="26.8" stroke="#000" text-anchor="middle">ns</text>
<text x="475.14" y="1566.55" font-size="26.8" stroke="#000" text-anchor="middle">ns</text>
<text x="505.17" y="1525.2" font-size="26.8" stroke="#000" text-anchor="middle">ns</text>
<text x="588.22" y="1566.55" font-size="26.8" stroke="#000" text-anchor="middle">ns</text>
<text x="617.91" y="1525.2" font-size="26.8" stroke="#000" text-anchor="middle">ns</text>
<path d="M336.96 1619.56V1572.2H369.12V1619.56" stroke="#000" stroke-width="2.0" fill="none"/>
<path d="M369.82 1543.93V1532.27H397.03V1619.56" stroke="#000" stroke-width="2.0" fill="none"/>
<path d="M457.11 1619.56V1572.2H489.27V1619.56" stroke="#000" stroke-width="2.0" fill="none"/>
<path d="M488.77 1543.93V1532.27H518.96V1610.02" stroke="#000" stroke-width="2.0" fill="none"/>
<path d="M570.55 1619.56V1572.2H603.06V1619.56" stroke="#000" stroke-width="2.0" fill="none"/>
<path d="M602.56 1543.93V1532.27H632.4V1619.56" stroke="#000" stroke-width="2.0" fill="none"/>
<text x="265.57" y="1671.86" font-size="24.2" stroke="#000" text-anchor="middle">Flag-STAT3</text>
<text x="374.77" y="1671.86" font-size="24.2" stroke="#000" text-anchor="middle">IgG</text>
<text x="500.23" y="1671.86" font-size="24.2" stroke="#000" text-anchor="middle">Flag-STAT3</text>
<text x="605.18" y="1671.86" font-size="24.2" stroke="#000" text-anchor="middle">IgG</text>
<line x1="198.43" y1="1684.58" x2="407.99" y2="1684.58" stroke="#000" stroke-width="2"/>
<line x1="435.2" y1="1684.58" x2="643.71" y2="1684.58" stroke="#000" stroke-width="2"/>
<text x="304.8" y="1708.97" font-size="24.6" stroke="#000" text-anchor="middle">STAT3-binding locus</text>
<text x="538.04" y="1708.97" font-size="24.1" stroke="#000" text-anchor="middle">negative control</text>
<text x="435.2" y="1744.31" font-size="23.6" stroke="#000" text-anchor="middle">MIA PaCa-2</text>
</g>
<g id="panel-k">
<text x="735.34" y="1157.81" font-size="46" font-weight="bold" stroke="#000">k</text>
<rect x="798.84" y="1234.03" width="24.96" height="12.95" fill="#1f6ab3" stroke="#000" stroke-width="2.6"/>
<text x="837.82" y="1246.52" font-size="23.2" stroke="#000">pCMV-Tag2B</text>
<rect x="1024.3" y="1234.03" width="24.61" height="12.95" fill="#e05a2b" stroke="#000" stroke-width="2.6"/>
<text x="1063.29" y="1246.52" font-size="23.3" stroke="#000">pCMV-Tag2B-STN1</text>
<text x="968.58" y="1366.32" font-size="19.8" stroke="#000">P = 0.0037</text>
<text x="1094.04" y="1366.32" font-size="19.8" stroke="#000">P = 0.0045</text>
<path d="M988.02 1501.67V1376.21H1035.02V1390.35" stroke="#000" stroke-width="1.7" fill="none"/>
<path d="M1114.18 1542.31V1376.21H1161.18V1567.05" stroke="#000" stroke-width="1.7" fill="none"/>
<line x1="956.21" y1="1372.64" x2="956.21" y2="1611.26" stroke="#000" stroke-width="2.2"/>
<line x1="946.32" y1="1610.16" x2="1192.28" y2="1610.16" stroke="#000" stroke-width="2.2"/>
<line x1="946.32" y1="1610.16" x2="956.21" y2="1610.16" stroke="#000" stroke-width="2.2"/>
<text x="941.02" y="1617.76" font-size="22.9" stroke="#000" text-anchor="end">0.0</text>
<line x1="946.32" y1="1562.88" x2="956.21" y2="1562.88" stroke="#000" stroke-width="2.2"/>
<text x="941.02" y="1570.48" font-size="22.9" stroke="#000" text-anchor="end">0.5</text>
<line x1="946.32" y1="1515.59" x2="956.21" y2="1515.59" stroke="#000" stroke-width="2.2"/>
<text x="941.02" y="1523.19" font-size="22.9" stroke="#000" text-anchor="end">1.0</text>
<line x1="946.32" y1="1468.31" x2="956.21" y2="1468.31" stroke="#000" stroke-width="2.2"/>
<text x="941.02" y="1475.91" font-size="22.9" stroke="#000" text-anchor="end">1.5</text>
<line x1="946.32" y1="1421.02" x2="956.21" y2="1421.02" stroke="#000" stroke-width="2.2"/>
<text x="941.02" y="1428.62" font-size="22.9" stroke="#000" text-anchor="end">2.0</text>
<line x1="946.32" y1="1373.74" x2="956.21" y2="1373.74" stroke="#000" stroke-width="2.2"/>
<text x="941.02" y="1381.34" font-size="22.9" stroke="#000" text-anchor="end">2.5</text>
<line x1="1011.7" y1="1610.16" x2="1011.7" y2="1619.7" stroke="#000" stroke-width="2.2"/>
<line x1="1137.5" y1="1610.16" x2="1137.5" y2="1619.7" stroke="#000" stroke-width="2.2"/>
<text x="880.94" y="1485.06" font-size="23.1" stroke="#000" text-anchor="middle" transform="rotate(-90 880.94 1485.06)">Relative luciferase activity</text>
<rect x="973.06" y="1516.45" width="30.11" height="93.71" fill="#1f6ab3" stroke="#000" stroke-width="2.5"/>
<rect x="1020.77" y="1417.5" width="29.4" height="192.66" fill="#e05a2b" stroke="#000" stroke-width="2.5"/>
<rect x="1099.23" y="1562.39" width="29.4" height="47.77" fill="#1f6ab3" stroke="#000" stroke-width="2.5"/>
<rect x="1146.94" y="1579.36" width="29.39" height="30.8" fill="#e05a2b" stroke="#000" stroke-width="2.5"/>
<path d="M988.02 1512.98V1517.57M979.54 1512.98H996.5M979.54 1517.57H996.5" stroke="#000" stroke-width="1.5" fill="none"/>
<path d="M1035.02 1399.89V1432.76M1026.54 1399.89H1043.5M1026.54 1432.76H1043.5" stroke="#000" stroke-width="1.5" fill="none"/>
<path d="M1114.18 1558.21V1565.28M1105.7 1558.21H1122.66M1105.7 1565.28H1122.66" stroke="#000" stroke-width="1.5" fill="none"/>
<path d="M1161.18 1576.94V1580.47M1152.7 1576.94H1169.66M1152.7 1580.47H1169.66" stroke="#000" stroke-width="1.5" fill="none"/>
<circle cx="982.72" cy="1512.98" r="2.5" fill="#000"/>
<circle cx="993.32" cy="1514.74" r="2.5" fill="#000"/>
<circle cx="983.78" cy="1518.63" r="2.5" fill="#000"/>
<circle cx="1035.02" cy="1395.65" r="2.5" fill="#000"/>
<circle cx="1035.02" cy="1405.54" r="2.5" fill="#000"/>
<circle cx="1035.02" cy="1448.66" r="2.5" fill="#000"/>
<circle cx="1109.23" cy="1557.5" r="2.5" fill="#000"/>
<circle cx="1119.48" cy="1559.98" r="2.5" fill="#000"/>
<circle cx="1114.18" cy="1567.05" r="2.5" fill="#000"/>
<circle cx="1161.18" cy="1575.88" r="2.5" fill="#000"/>
<circle cx="1152.35" cy="1580.12" r="2.5" fill="#000"/>
<circle cx="1170.72" cy="1579.41" r="2.5" fill="#000"/>
<text x="1013.82" y="1646.56" font-size="23.3" stroke="#000" text-anchor="middle">DMSO</text>
<text x="1139.27" y="1646.56" font-size="23.3" stroke="#000" text-anchor="middle">S3I-201</text>
</g>
<g id="panel-l">
<text x="1404.03" y="1159.93" font-size="46" font-weight="bold" stroke="#000">l</text>
<text x="1437.6" y="1237.68" font-size="23.7" stroke="#000" letter-spacing="0.2">STN1</text>
<text x="1437.6" y="1332.04" font-size="23.7" stroke="#000" letter-spacing="0.2">STN1-OBD</text>
<text x="1439.37" y="1422.86" font-size="23.7" stroke="#000" letter-spacing="0.2">STN1-wHTH<tspan font-size="12.5" dy="7">1</tspan><tspan dy="-7">D</tspan></text>
<text x="1439.37" y="1504.49" font-size="23.7" stroke="#000" letter-spacing="0.2">STN1-wHTH<tspan font-size="12.5" dy="7">2</tspan><tspan dy="-7">D</tspan></text>
<text x="1439.37" y="1589.31" font-size="23.7" stroke="#000" letter-spacing="0.2">STN1-wHTH<tspan font-size="12.5" dy="7">1</tspan><tspan dy="-7"></tspan></text>
<text x="1437.6" y="1670.24" font-size="23.7" stroke="#000" letter-spacing="0.2">STN1-OBM</text>
<line x1="1701.59" y1="1233.79" x2="1714.67" y2="1233.79" stroke="#2a2a2a" stroke-width="2.4"/>
<rect x="1632.22" y="1214.76" width="70.08" height="38.42" rx="19.11" fill="#fbe3e9" stroke="#9c2f4f" stroke-width="2.5"/>
<text x="1666.96" y="1243.87" font-size="26.5" stroke="#000" text-anchor="middle">OB</text>
<rect x="1714.56" y="1214.76" width="105.42" height="38.42" rx="19.11" fill="#f2deb0" stroke="#a07230" stroke-width="2.5"/>
<text x="1766.26" y="1241.04" font-size="26" stroke="#000" text-anchor="middle">wHTH<tspan font-size="13.5" dy="7.5">1</tspan></text>
<rect x="1822.34" y="1214.76" width="105.42" height="38.42" rx="19.11" fill="#f2deb0" stroke="#a07230" stroke-width="2.5"/>
<text x="1874.05" y="1241.04" font-size="26" stroke="#000" text-anchor="middle">wHTH<tspan font-size="13.5" dy="7.5">2</tspan></text>
<line x1="1705.12" y1="1322.14" x2="1717.49" y2="1322.14" stroke="#2a2a2a" stroke-width="2.4"/>
<rect x="1717.39" y="1303.11" width="104.36" height="38.42" rx="19.11" fill="#f2deb0" stroke="#a07230" stroke-width="2.5"/>
<text x="1768.56" y="1329.39" font-size="26" stroke="#000" text-anchor="middle">wHTH<tspan font-size="13.5" dy="7.5">1</tspan></text>
<rect x="1825.17" y="1303.11" width="105.07" height="38.42" rx="19.11" fill="#f2deb0" stroke="#a07230" stroke-width="2.5"/>
<text x="1876.7" y="1329.39" font-size="26" stroke="#000" text-anchor="middle">wHTH<tspan font-size="13.5" dy="7.5">2</tspan></text>
<line x1="1701.59" y1="1410.49" x2="1717.49" y2="1410.49" stroke="#2a2a2a" stroke-width="2.4"/>
<rect x="1632.22" y="1391.45" width="70.08" height="38.08" rx="18.94" fill="#fbe3e9" stroke="#9c2f4f" stroke-width="2.5"/>
<text x="1666.96" y="1420.39" font-size="26.5" stroke="#000" text-anchor="middle">OB</text>
<rect x="1717.39" y="1391.45" width="105.42" height="38.08" rx="18.94" fill="#f2deb0" stroke="#a07230" stroke-width="2.5"/>
<text x="1769.09" y="1417.56" font-size="26" stroke="#000" text-anchor="middle">wHTH<tspan font-size="13.5" dy="7.5">2</tspan></text>
<line x1="1701.59" y1="1494.6" x2="1717.49" y2="1494.6" stroke="#2a2a2a" stroke-width="2.4"/>
<rect x="1632.22" y="1475.56" width="70.08" height="38.08" rx="18.94" fill="#fbe3e9" stroke="#9c2f4f" stroke-width="2.5"/>
<text x="1666.96" y="1504.49" font-size="26.5" stroke="#000" text-anchor="middle">OB</text>
<rect x="1717.39" y="1475.56" width="105.42" height="38.08" rx="18.94" fill="#f2deb0" stroke="#a07230" stroke-width="2.5"/>
<text x="1769.09" y="1501.67" font-size="26" stroke="#000" text-anchor="middle">wHTH<tspan font-size="13.5" dy="7.5">1</tspan></text>
<line x1="1705.12" y1="1580.12" x2="1720.67" y2="1580.12" stroke="#2a2a2a" stroke-width="2.4"/>
<rect x="1720.57" y="1561.08" width="105.42" height="38.08" rx="18.94" fill="#f2deb0" stroke="#a07230" stroke-width="2.5"/>
<text x="1772.27" y="1587.19" font-size="26" stroke="#000" text-anchor="middle">wHTH<tspan font-size="13.5" dy="7.5">1</tspan></text>
<line x1="1717.85" y1="1664.58" x2="1733.04" y2="1664.58" stroke="#2a2a2a" stroke-width="2.4"/>
<rect x="1632.22" y="1645.19" width="86.34" height="38.78" rx="19.29" fill="#fbe3e9" stroke="#9c2f4f" stroke-width="2.5"/>
<text x="1675.09" y="1673.06" font-size="23.5" fill="#c8383a" stroke="#c8383a" text-anchor="middle">OBmut</text>
<rect x="1732.94" y="1645.19" width="104.71" height="38.78" rx="19.29" fill="#f2deb0" stroke="#a07230" stroke-width="2.5"/>
<text x="1784.28" y="1671.65" font-size="26" stroke="#000" text-anchor="middle">wHTH<tspan font-size="13.5" dy="7.5">1</tspan></text>
<rect x="1841.07" y="1645.19" width="105.42" height="38.78" rx="19.29" fill="#f2deb0" stroke="#a07230" stroke-width="2.5"/>
<text x="1892.78" y="1671.65" font-size="26" stroke="#000" text-anchor="middle">wHTH<tspan font-size="13.5" dy="7.5">2</tspan></text>
</g>
<g id="panel-m">
<text x="3.09" y="1817.21" font-size="46" font-weight="bold" stroke="#000">m</text>
<text x="346.64" y="1865.14" font-size="21.7" fill="#2b2b2b" stroke="#2b2b2b" text-anchor="middle">input</text>
<text x="766.34" y="1870.39" font-size="21.7" fill="#2b2b2b" stroke="#2b2b2b" text-anchor="middle">IP</text>
<line x1="163.27" y1="1874.72" x2="572.15" y2="1874.72" stroke="#111" stroke-width="2.2"/>
<line x1="586.06" y1="1874.72" x2="994.85" y2="1874.72" stroke="#111" stroke-width="2.2"/>
<text x="16.08" y="2018.2" font-size="22" fill="#2b2b2b" stroke="#2b2b2b">MW(kDa)</text>
<text x="150.9" y="2025.93" font-size="22.4" fill="#2b2b2b" stroke="#2b2b2b" transform="rotate(-44.5 150.9 2025.93)">pSA-N</text>
<text x="203.78" y="2022.84" font-size="22.4" fill="#2b2b2b" stroke="#2b2b2b" transform="rotate(-44.5 203.78 2022.84)">HA-STN1</text>
<text x="254.49" y="2022.22" font-size="22.4" fill="#2b2b2b" stroke="#2b2b2b" transform="rotate(-44.5 254.49 2022.22)">HA-STN1-OBD</text>
<text x="304.58" y="2022.22" font-size="22.4" fill="#2b2b2b" stroke="#2b2b2b" transform="rotate(-44.5 304.58 2022.22)">HA-STN1-wHTH<tspan font-size="11.5" dy="5">1</tspan><tspan dy="-5">D</tspan></text>
<text x="356.53" y="2022.22" font-size="22.4" fill="#2b2b2b" stroke="#2b2b2b" transform="rotate(-44.5 356.53 2022.22)">HA-STN1-wHTH<tspan font-size="11.5" dy="5">2</tspan><tspan dy="-5">D</tspan></text>
<text x="406.94" y="2022.22" font-size="22.4" fill="#2b2b2b" stroke="#2b2b2b" transform="rotate(-44.5 406.94 2022.22)">HA-STN1-wHTH<tspan font-size="11.5" dy="5">1</tspan><tspan dy="-5"></tspan></text>
<text x="457.96" y="2022.22" font-size="22.4" fill="#2b2b2b" stroke="#2b2b2b" transform="rotate(-44.5 457.96 2022.22)">HA-STN1-OBM</text>
<text x="561.33" y="2025.93" font-size="22.4" fill="#2b2b2b" stroke="#2b2b2b" transform="rotate(-44.5 561.33 2025.93)">pSA-N</text>
<text x="608.02" y="2022.84" font-size="22.4" fill="#2b2b2b" stroke="#2b2b2b" transform="rotate(-44.5 608.02 2022.84)">HA-STN1</text>
<text x="664.3" y="2022.22" font-size="22.4" fill="#2b2b2b" stroke="#2b2b2b" transform="rotate(-44.5 664.3 2022.22)">HA-STN1-OBD</text>
<text x="711.92" y="2022.22" font-size="22.4" fill="#2b2b2b" stroke="#2b2b2b" transform="rotate(-44.5 711.92 2022.22)">HA-STN1-wHTH<tspan font-size="11.5" dy="5">1</tspan><tspan dy="-5">D</tspan></text>
<text x="758.61" y="2022.22" font-size="22.4" fill="#2b2b2b" stroke="#2b2b2b" transform="rotate(-44.5 758.61 2022.22)">HA-STN1-wHTH<tspan font-size="11.5" dy="5">2</tspan><tspan dy="-5">D</tspan></text>
<text x="810.25" y="2022.22" font-size="22.4" fill="#2b2b2b" stroke="#2b2b2b" transform="rotate(-44.5 810.25 2022.22)">HA-STN1-wHTH<tspan font-size="11.5" dy="5">1</tspan><tspan dy="-5"></tspan></text>
<text x="862.82" y="2022.22" font-size="22.4" fill="#2b2b2b" stroke="#2b2b2b" transform="rotate(-44.5 862.82 2022.22)">HA-STN1-OBM</text>
<text x="108.85" y="2068.6" font-size="22" fill="#2b2b2b" stroke="#2b2b2b" text-anchor="end">70-</text>
<text x="108.85" y="2127.05" font-size="22" fill="#2b2b2b" stroke="#2b2b2b" text-anchor="end">40-</text>
<text x="108.85" y="2299.59" font-size="22" fill="#2b2b2b" stroke="#2b2b2b" text-anchor="end">35-</text>
<text x="908.32" y="2059.33" font-size="22.3" fill="#2b2b2b" stroke="#2b2b2b">-Flag-STAT3</text>
<text x="910.62" y="2118.7" font-size="22.3" fill="#2b2b2b" stroke="#2b2b2b" letter-spacing="-0.85">-HA-STN1/STN1-OBM</text>
<text x="911.22" y="2132.61" font-size="22.3" fill="#2b2b2b" stroke="#2b2b2b" letter-spacing="-0.8">-HA-STN1-wHTH<tspan font-size="11.5" dy="5">2</tspan><tspan dy="-5">D</tspan></text>
<text x="911.22" y="2146.53" font-size="22.3" fill="#2b2b2b" stroke="#2b2b2b" letter-spacing="-0.8">-HA-STN1-wHTH<tspan font-size="11.5" dy="5">1</tspan><tspan dy="-5">D</tspan></text>
<text x="911.22" y="2179.61" font-size="22.3" fill="#2b2b2b" stroke="#2b2b2b">-HA-STN1-OBD</text>
<text x="911.22" y="2230.64" font-size="22.3" fill="#2b2b2b" stroke="#2b2b2b">-HA-STN1-wHTH<tspan font-size="11.5" dy="5">1</tspan><tspan dy="-5"></tspan></text>
<text x="910.32" y="2285.68" font-size="22.3" fill="#2b2b2b" stroke="#2b2b2b">-GAPDH</text>
<clipPath id="bc9"><rect x="108.85" y="2026.55" width="392.71" height="53.49"/></clipPath>
<rect x="108.85" y="2026.55" width="392.71" height="53.49" fill="#f3f3f3"/>
<g clip-path="url(#bc9)">
<rect x="127.56" y="2026.71" width="47.93" height="54.11" rx="23.96" ry="27.05" fill="#000" opacity="0.2" filter="url(#bl4)"/>
<rect x="128.33" y="2046.34" width="46.38" height="11.75" rx="5.88" ry="5.88" fill="#000" opacity="0.6" filter="url(#bl3)"/>
<rect x="130.65" y="2066.13" width="41.74" height="11.13" rx="5.57" ry="5.57" fill="#000" opacity="0.16" filter="url(#bl3)"/>
<rect x="178.57" y="2026.71" width="47.93" height="54.11" rx="23.96" ry="27.05" fill="#000" opacity="0.2" filter="url(#bl4)"/>
<rect x="179.35" y="2046.34" width="46.38" height="11.75" rx="5.88" ry="5.88" fill="#000" opacity="0.62" filter="url(#bl3)"/>
<rect x="181.67" y="2066.13" width="41.74" height="11.13" rx="5.57" ry="5.57" fill="#000" opacity="0.16" filter="url(#bl3)"/>
<rect x="228.06" y="2026.71" width="47.93" height="54.11" rx="23.96" ry="27.05" fill="#000" opacity="0.2" filter="url(#bl4)"/>
<rect x="228.83" y="2046.64" width="46.38" height="11.13" rx="5.57" ry="5.57" fill="#000" opacity="0.55" filter="url(#bl3)"/>
<rect x="231.15" y="2066.13" width="41.74" height="11.13" rx="5.57" ry="5.57" fill="#000" opacity="0.16" filter="url(#bl3)"/>
<rect x="280.62" y="2026.71" width="47.93" height="54.11" rx="23.96" ry="27.05" fill="#000" opacity="0.2" filter="url(#bl4)"/>
<rect x="281.39" y="2045.4" width="46.38" height="13.61" rx="6.8" ry="6.8" fill="#000" opacity="1" filter="url(#bl3)"/>
<rect x="283.71" y="2066.13" width="41.74" height="11.13" rx="5.57" ry="5.57" fill="#000" opacity="0.16" filter="url(#bl3)"/>
<rect x="331.64" y="2026.71" width="47.93" height="54.11" rx="23.96" ry="27.05" fill="#000" opacity="0.2" filter="url(#bl4)"/>
<rect x="332.41" y="2045.4" width="46.38" height="13.61" rx="6.8" ry="6.8" fill="#000" opacity="1" filter="url(#bl3)"/>
<rect x="334.73" y="2066.13" width="41.74" height="11.13" rx="5.57" ry="5.57" fill="#000" opacity="0.16" filter="url(#bl3)"/>
<rect x="382.67" y="2026.71" width="47.93" height="54.11" rx="23.96" ry="27.05" fill="#000" opacity="0.2" filter="url(#bl4)"/>
<rect x="383.44" y="2046.95" width="46.38" height="10.51" rx="5.25" ry="5.25" fill="#000" opacity="0.95" filter="url(#bl3)"/>
<rect x="385.76" y="2066.13" width="41.74" height="11.13" rx="5.57" ry="5.57" fill="#000" opacity="0.16" filter="url(#bl3)"/>
<rect x="433.69" y="2026.71" width="47.93" height="54.11" rx="23.96" ry="27.05" fill="#000" opacity="0.2" filter="url(#bl4)"/>
<rect x="434.46" y="2045.72" width="46.38" height="12.99" rx="6.5" ry="6.5" fill="#000" opacity="1" filter="url(#bl3)"/>
<rect x="436.78" y="2066.13" width="41.74" height="11.13" rx="5.57" ry="5.57" fill="#000" opacity="0.16" filter="url(#bl3)"/>
<rect x="211.04" y="2049.12" width="13.91" height="9.28" rx="4.64" ry="4.64" fill="#000" opacity="0.9" filter="url(#bl3)"/>
<rect x="261.44" y="2049.74" width="13.91" height="8.04" rx="4.02" ry="4.02" fill="#000" opacity="0.8" filter="url(#bl3)"/>
<rect x="281.39" y="2046.34" width="46.38" height="12.99" rx="6.5" ry="6.5" fill="#000" opacity="1" filter="url(#bl2.5)"/>
<rect x="332.41" y="2041.7" width="27.83" height="14.84" rx="7.42" ry="7.42" fill="#000" opacity="1" filter="url(#bl2.5)"/>
<rect x="333.96" y="2047.57" width="43.29" height="11.13" rx="5.57" ry="5.57" fill="#000" opacity="1" filter="url(#bl2.5)"/>
<rect x="434.46" y="2047.89" width="46.38" height="11.75" rx="5.88" ry="5.88" fill="#000" opacity="1" filter="url(#bl2.5)"/>
<rect x="384.99" y="2049.43" width="43.29" height="8.66" rx="4.33" ry="4.33" fill="#000" opacity="0.85" filter="url(#bl2.5)"/>
<rect x="296.85" y="2073.24" width="24.74" height="4.33" rx="2.17" ry="2.17" fill="#000" opacity="0.35" filter="url(#bl2.5)"/>
<rect x="337.05" y="2070.14" width="15.46" height="4.33" rx="2.17" ry="2.17" fill="#000" opacity="0.35" filter="url(#bl2.5)"/>
</g>
<rect x="108.85" y="2026.55" width="392.71" height="53.49" fill="none" stroke="#000" stroke-width="1.8"/>
<clipPath id="bc10"><rect x="108.85" y="2091.49" width="392.71" height="153.37"/></clipPath>
<rect x="108.85" y="2091.49" width="392.71" height="153.37" fill="#f9f9f9"/>
<g clip-path="url(#bc10)">
<rect x="131.42" y="2114.36" width="40.2" height="2.47" rx="1.24" ry="1.24" fill="#000" opacity="0.18" filter="url(#bl2)"/>
<rect x="131.42" y="2207.44" width="30.92" height="3.09" rx="1.54" ry="1.54" fill="#000" opacity="0.14" filter="url(#bl2)"/>
<ellipse cx="201.61" cy="2113.44" rx="22.88" ry="2.79" fill="#000" opacity="0.72" filter="url(#bl2.5)"/>
<rect x="180.89" y="2114.06" width="40.2" height="9.28" rx="4.64" ry="4.64" fill="#000" opacity="0.25" filter="url(#bl3)"/>
<rect x="182.44" y="2124.88" width="37.11" height="18.55" rx="9.28" ry="9.28" fill="#000" opacity="0.08" filter="url(#bl4)"/>
<rect x="185.53" y="2194.76" width="30.92" height="4.33" rx="2.17" ry="2.17" fill="#000" opacity="0.26" filter="url(#bl2.5)"/>
<rect x="185.53" y="2206.82" width="30.92" height="3.09" rx="1.54" ry="1.54" fill="#000" opacity="0.14" filter="url(#bl2.5)"/>
<rect x="229.75" y="2171.89" width="42.67" height="4.95" rx="2.48" ry="2.48" fill="#000" opacity="1" filter="url(#bl2)"/>
<rect x="229.75" y="2170.65" width="42.67" height="7.42" rx="3.71" ry="3.71" fill="#000" opacity="0.5" filter="url(#bl3)"/>
<rect x="233.31" y="2182.7" width="35.56" height="5.57" rx="2.79" ry="2.79" fill="#000" opacity="0.32" filter="url(#bl3)"/>
<rect x="232.53" y="2117.15" width="37.11" height="1.86" rx="0.93" ry="0.93" fill="#000" opacity="0.12" filter="url(#bl2)"/>
<rect x="237.18" y="2207.13" width="27.83" height="2.47" rx="1.24" ry="1.24" fill="#000" opacity="0.1" filter="url(#bl2.5)"/>
<rect x="280.78" y="2143.43" width="42.67" height="4.33" rx="2.17" ry="2.17" fill="#000" opacity="1" filter="url(#bl2)"/>
<rect x="280.78" y="2142.2" width="42.67" height="6.8" rx="3.4" ry="3.4" fill="#000" opacity="0.45" filter="url(#bl3)"/>
<rect x="284.49" y="2154.26" width="34.01" height="9.28" rx="4.64" ry="4.64" fill="#000" opacity="0.12" filter="url(#bl3)"/>
<rect x="282.94" y="2117.46" width="37.11" height="2.47" rx="1.24" ry="1.24" fill="#000" opacity="0.15" filter="url(#bl2)"/>
<rect x="286.03" y="2195.07" width="30.92" height="3.71" rx="1.85" ry="1.85" fill="#000" opacity="0.22" filter="url(#bl2.5)"/>
<rect x="287.57" y="2207.13" width="27.83" height="2.47" rx="1.24" ry="1.24" fill="#000" opacity="0.12" filter="url(#bl2.5)"/>
<rect x="331.8" y="2131.07" width="42.67" height="4.33" rx="2.17" ry="2.17" fill="#000" opacity="1" filter="url(#bl2)"/>
<rect x="331.8" y="2129.83" width="42.67" height="6.8" rx="3.4" ry="3.4" fill="#000" opacity="0.45" filter="url(#bl3)"/>
<rect x="333.95" y="2118.69" width="37.11" height="3.09" rx="1.54" ry="1.54" fill="#000" opacity="0.18" filter="url(#bl2.5)"/>
<rect x="337.05" y="2195.07" width="30.92" height="3.71" rx="1.85" ry="1.85" fill="#000" opacity="0.24" filter="url(#bl2.5)"/>
<rect x="338.59" y="2207.13" width="27.83" height="2.47" rx="1.24" ry="1.24" fill="#000" opacity="0.1" filter="url(#bl2.5)"/>
<rect x="384.98" y="2117.77" width="40.2" height="1.86" rx="0.93" ry="0.93" fill="#000" opacity="0.12" filter="url(#bl2)"/>
<rect x="383.44" y="2222.6" width="43.29" height="5.57" rx="2.79" ry="2.79" fill="#000" opacity="0.22" filter="url(#bl3)"/>
<rect x="388.07" y="2210.22" width="34.01" height="2.47" rx="1.24" ry="1.24" fill="#000" opacity="0.1" filter="url(#bl2.5)"/>
<ellipse cx="457.03" cy="2113.44" rx="22.88" ry="2.48" fill="#000" opacity="0.55" filter="url(#bl2.5)"/>
<rect x="436.0" y="2114.06" width="40.2" height="9.28" rx="4.64" ry="4.64" fill="#000" opacity="0.2" filter="url(#bl3)"/>
<rect x="437.55" y="2124.88" width="37.11" height="18.55" rx="9.28" ry="9.28" fill="#000" opacity="0.07" filter="url(#bl4)"/>
<rect x="440.64" y="2196.62" width="30.92" height="3.71" rx="1.85" ry="1.85" fill="#000" opacity="0.24" filter="url(#bl2.5)"/>
<rect x="442.19" y="2210.22" width="27.83" height="2.47" rx="1.24" ry="1.24" fill="#000" opacity="0.1" filter="url(#bl2.5)"/>
</g>
<rect x="108.85" y="2091.49" width="392.71" height="153.37" fill="none" stroke="#000" stroke-width="1.8"/>
<clipPath id="bc11"><rect x="108.85" y="2255.68" width="391.16" height="51.64"/></clipPath>
<rect x="108.85" y="2255.68" width="391.16" height="51.64" fill="#f6f6f6"/>
<g clip-path="url(#bc11)">
<rect x="128.48" y="2275.32" width="54.11" height="14.53" rx="7.26" ry="7.26" fill="#000" opacity="0.25" filter="url(#bl4)"/>
<ellipse cx="155.54" cy="2282.58" rx="23.19" ry="4.17" fill="#000" opacity="1" filter="url(#bl2)"/>
<rect x="136.98" y="2279.03" width="37.11" height="7.11" rx="3.56" ry="3.56" fill="#000" opacity="1" filter="url(#bl2)"/>
<rect x="176.26" y="2276.24" width="55.66" height="12.68" rx="6.34" ry="6.34" fill="#000" opacity="0.25" filter="url(#bl4)"/>
<ellipse cx="204.09" cy="2282.58" rx="23.96" ry="3.25" fill="#000" opacity="1" filter="url(#bl2)"/>
<rect x="184.77" y="2279.95" width="38.65" height="5.26" rx="2.63" ry="2.63" fill="#000" opacity="1" filter="url(#bl2)"/>
<rect x="231.91" y="2275.63" width="52.57" height="12.68" rx="6.34" ry="6.34" fill="#000" opacity="0.25" filter="url(#bl4)"/>
<ellipse cx="258.2" cy="2281.97" rx="22.42" ry="3.25" fill="#000" opacity="1" filter="url(#bl2)"/>
<rect x="240.42" y="2279.34" width="35.56" height="5.26" rx="2.63" ry="2.63" fill="#000" opacity="1" filter="url(#bl2)"/>
<rect x="282.17" y="2275.63" width="51.02" height="12.68" rx="6.34" ry="6.34" fill="#000" opacity="0.25" filter="url(#bl4)"/>
<ellipse cx="307.68" cy="2281.97" rx="21.64" ry="3.25" fill="#000" opacity="1" filter="url(#bl2)"/>
<rect x="290.68" y="2279.34" width="34.01" height="5.26" rx="2.63" ry="2.63" fill="#000" opacity="1" filter="url(#bl2)"/>
<rect x="333.19" y="2275.01" width="54.11" height="12.68" rx="6.34" ry="6.34" fill="#000" opacity="0.25" filter="url(#bl4)"/>
<ellipse cx="360.24" cy="2281.35" rx="23.19" ry="3.25" fill="#000" opacity="1" filter="url(#bl2)"/>
<rect x="341.69" y="2278.72" width="37.11" height="5.26" rx="2.63" ry="2.63" fill="#000" opacity="1" filter="url(#bl2)"/>
<rect x="382.67" y="2275.01" width="54.11" height="12.68" rx="6.34" ry="6.34" fill="#000" opacity="0.25" filter="url(#bl4)"/>
<ellipse cx="409.72" cy="2281.35" rx="23.19" ry="3.25" fill="#000" opacity="1" filter="url(#bl2)"/>
<rect x="391.17" y="2278.72" width="37.11" height="5.26" rx="2.63" ry="2.63" fill="#000" opacity="1" filter="url(#bl2)"/>
<rect x="435.07" y="2274.39" width="52.57" height="12.68" rx="6.34" ry="6.34" fill="#000" opacity="0.25" filter="url(#bl4)"/>
<ellipse cx="461.36" cy="2280.73" rx="22.42" ry="3.25" fill="#000" opacity="1" filter="url(#bl2)"/>
<rect x="443.58" y="2278.1" width="35.56" height="5.26" rx="2.63" ry="2.63" fill="#000" opacity="1" filter="url(#bl2)"/>
</g>
<rect x="108.85" y="2255.68" width="391.16" height="51.64" fill="none" stroke="#000" stroke-width="1.8"/>
<clipPath id="bc12"><rect x="515.56" y="2026.55" width="391.17" height="52.88"/></clipPath>
<rect x="515.56" y="2026.55" width="391.17" height="52.88" fill="#f9f9f9"/>
<g clip-path="url(#bc12)">
<rect x="586.68" y="2054.07" width="40.2" height="3.71" rx="1.85" ry="1.85" fill="#000" opacity="0.28" filter="url(#bl2.5)"/>
<rect x="642.34" y="2054.07" width="38.65" height="3.71" rx="1.85" ry="1.85" fill="#000" opacity="0.14" filter="url(#bl2.5)"/>
<rect x="738.2" y="2054.07" width="38.65" height="3.71" rx="1.85" ry="1.85" fill="#000" opacity="0.28" filter="url(#bl2.5)"/>
<rect x="790.77" y="2054.07" width="37.11" height="3.71" rx="1.85" ry="1.85" fill="#000" opacity="0.2" filter="url(#bl2.5)"/>
<rect x="843.33" y="2054.07" width="38.65" height="3.71" rx="1.85" ry="1.85" fill="#000" opacity="0.13" filter="url(#bl2.5)"/>
<rect x="693.36" y="2054.07" width="30.92" height="3.71" rx="1.85" ry="1.85" fill="#000" opacity="0.04" filter="url(#bl2.5)"/>
</g>
<rect x="515.56" y="2026.55" width="391.17" height="52.88" fill="none" stroke="#000" stroke-width="1.8"/>
<clipPath id="bc13"><rect x="515.56" y="2091.49" width="392.71" height="153.37"/></clipPath>
<rect x="515.56" y="2091.49" width="392.71" height="153.37" fill="#f9f9f9"/>
<g clip-path="url(#bc13)">
<rect x="582.35" y="2103.86" width="43.91" height="14.22" rx="7.11" ry="7.11" fill="#000" opacity="1" filter="url(#bl3)"/>
<rect x="585.14" y="2124.88" width="37.11" height="9.28" rx="4.64" ry="4.64" fill="#000" opacity="0.12" filter="url(#bl3.5)"/>
<rect x="586.69" y="2141.12" width="34.01" height="7.73" rx="3.87" ry="3.87" fill="#000" opacity="0.08" filter="url(#bl3.5)"/>
<rect x="588.23" y="2161.99" width="30.92" height="6.18" rx="3.09" ry="3.09" fill="#000" opacity="0.06" filter="url(#bl3.5)"/>
<rect x="585.91" y="2187.97" width="35.56" height="5.57" rx="2.79" ry="2.79" fill="#000" opacity="0.32" filter="url(#bl3)"/>
<rect x="633.22" y="2161.99" width="41.74" height="13.61" rx="6.8" ry="6.8" fill="#000" opacity="1" filter="url(#bl3)" transform="rotate(3 654.09 2168.79)"/>
<rect x="642.34" y="2174.36" width="30.92" height="4.95" rx="2.48" ry="2.48" fill="#000" opacity="0.9" filter="url(#bl2.5)"/>
<rect x="686.25" y="2139.11" width="37.73" height="5.57" rx="2.79" ry="2.79" fill="#000" opacity="1" filter="url(#bl2.5)"/>
<rect x="687.19" y="2161.22" width="34.01" height="7.73" rx="3.87" ry="3.87" fill="#000" opacity="0.06" filter="url(#bl3.5)"/>
<rect x="688.73" y="2189.2" width="30.92" height="4.33" rx="2.17" ry="2.17" fill="#000" opacity="0.08" filter="url(#bl3)"/>
<rect x="736.03" y="2123.03" width="42.67" height="12.99" rx="6.5" ry="6.5" fill="#000" opacity="1" filter="url(#bl3)"/>
<rect x="738.21" y="2097.05" width="34.01" height="24.74" rx="12.37" ry="12.37" fill="#000" opacity="0.07" filter="url(#bl5)"/>
<rect x="739.75" y="2142.67" width="34.01" height="7.73" rx="3.87" ry="3.87" fill="#000" opacity="0.1" filter="url(#bl3.5)"/>
<rect x="741.29" y="2161.99" width="30.92" height="6.18" rx="3.09" ry="3.09" fill="#000" opacity="0.07" filter="url(#bl3.5)"/>
<rect x="738.97" y="2188.28" width="35.56" height="4.95" rx="2.48" ry="2.48" fill="#000" opacity="0.28" filter="url(#bl3)"/>
<rect x="790.46" y="2222.9" width="37.73" height="8.04" rx="4.02" ry="4.02" fill="#000" opacity="0.55" filter="url(#bl3)"/>
<rect x="792.32" y="2236.2" width="34.01" height="6.18" rx="3.09" ry="3.09" fill="#000" opacity="0.1" filter="url(#bl3.5)"/>
<rect x="841.32" y="2109.11" width="44.84" height="9.9" rx="4.95" ry="4.95" fill="#000" opacity="1" filter="url(#bl3)"/>
<rect x="844.88" y="2127.21" width="37.11" height="7.73" rx="3.87" ry="3.87" fill="#000" opacity="0.1" filter="url(#bl3.5)"/>
<rect x="846.42" y="2142.67" width="34.01" height="7.73" rx="3.87" ry="3.87" fill="#000" opacity="0.06" filter="url(#bl3.5)"/>
<rect x="844.88" y="2192.61" width="37.11" height="3.71" rx="1.85" ry="1.85" fill="#000" opacity="0.16" filter="url(#bl3)"/>
</g>
<rect x="515.56" y="2091.49" width="392.71" height="153.37" fill="none" stroke="#000" stroke-width="1.8"/>
<clipPath id="bc14"><rect x="517.73" y="2255.68" width="390.54" height="51.64"/></clipPath>
<rect x="517.73" y="2255.68" width="390.54" height="51.64" fill="#fafafa"/>
<g clip-path="url(#bc14)">
</g>
<rect x="517.73" y="2255.68" width="390.54" height="51.64" fill="none" stroke="#000" stroke-width="1.8"/>
</g>
<g id="panel-n">
<text x="1165.43" y="1817.21" font-size="46" font-weight="bold" stroke="#000">n</text>
<text x="1195.43" y="2050.67" font-size="24" stroke="#000">MW(kDa)</text>
<text x="1296.85" y="2129.52" font-size="23.5" stroke="#000" text-anchor="end">170-</text>
<text x="1298.4" y="2220.12" font-size="23.5" stroke="#000" text-anchor="end">35-</text>
<text x="1372.61" y="2051.6" font-size="24" stroke="#000" transform="rotate(-45.5 1372.61 2051.6)">scramble</text>
<text x="1460.12" y="2051.6" font-size="24" stroke="#000" transform="rotate(-45.5 1460.12 2051.6)">shSTN1-1</text>
<text x="1541.11" y="2051.6" font-size="24" stroke="#000" transform="rotate(-45.5 1541.11 2051.6)">shSTN1-1+STN1</text>
<text x="1627.7" y="2051.6" font-size="24" stroke="#000" transform="rotate(-45.5 1627.7 2051.6)">shSTN1-1+STN1-OBD</text>
<text x="1715.21" y="2051.6" font-size="24" stroke="#000" transform="rotate(-45.5 1715.21 2051.6)">shSTN1-1+wHTH<tspan font-size="12.5" dy="6">1</tspan><tspan dy="-6">D</tspan></text>
<text x="1798.7" y="2050.05" font-size="24" stroke="#000" transform="rotate(-45.5 1798.7 2050.05)">shSTN1-1+wHTH<tspan font-size="12.5" dy="6">2</tspan><tspan dy="-6">D</tspan></text>
<text x="1878.47" y="2050.05" font-size="24" stroke="#000" transform="rotate(-45.5 1878.47 2050.05)">shSTN1-1+wHTH<tspan font-size="12.5" dy="6">1</tspan><tspan dy="-6"></tspan></text>
<text x="1944.03" y="2108.8" font-size="23.5" stroke="#000">-ZEB1</text>
<text x="1942.48" y="2200.02" font-size="23.5" stroke="#000">-GAPDH</text>
<text x="1605.12" y="2294.03" font-size="23.8" stroke="#000" text-anchor="middle">MIA PaCa-2</text>
<clipPath id="bc15"><rect x="1296.85" y="2059.33" width="647.18" height="74.83"/></clipPath>
<rect x="1296.85" y="2059.33" width="647.18" height="74.83" fill="#f9f9f9"/>
<g clip-path="url(#bc15)">
<rect x="1341.68" y="2099.06" width="57.21" height="4.02" rx="2.01" ry="2.01" fill="#000" opacity="0.5" filter="url(#bl2.5)"/>
<rect x="1341.68" y="2097.05" width="57.21" height="37.11" rx="18.55" ry="18.55" fill="#000" opacity="0.045" filter="url(#bl6)"/>
<rect x="1428.27" y="2099.06" width="52.57" height="4.02" rx="2.01" ry="2.01" fill="#000" opacity="0.2" filter="url(#bl2.5)"/>
<rect x="1428.27" y="2097.05" width="52.57" height="37.11" rx="18.55" ry="18.55" fill="#000" opacity="0.033" filter="url(#bl6)"/>
<rect x="1510.19" y="2099.06" width="55.66" height="4.02" rx="2.01" ry="2.01" fill="#000" opacity="0.95" filter="url(#bl2.5)"/>
<rect x="1510.19" y="2097.05" width="55.66" height="37.11" rx="18.55" ry="18.55" fill="#000" opacity="0.063" filter="url(#bl6)"/>
<rect x="1595.22" y="2099.06" width="54.11" height="4.02" rx="2.01" ry="2.01" fill="#000" opacity="0.38" filter="url(#bl2.5)"/>
<rect x="1595.22" y="2097.05" width="54.11" height="37.11" rx="18.55" ry="18.55" fill="#000" opacity="0.0402" filter="url(#bl6)"/>
<rect x="1680.26" y="2099.06" width="54.11" height="4.02" rx="2.01" ry="2.01" fill="#000" opacity="0.2" filter="url(#bl2.5)"/>
<rect x="1680.26" y="2097.05" width="54.11" height="37.11" rx="18.55" ry="18.55" fill="#000" opacity="0.033" filter="url(#bl6)"/>
<rect x="1763.75" y="2099.06" width="57.21" height="4.02" rx="2.01" ry="2.01" fill="#000" opacity="0.85" filter="url(#bl2.5)"/>
<rect x="1763.75" y="2097.05" width="57.21" height="37.11" rx="18.55" ry="18.55" fill="#000" opacity="0.059000000000000004" filter="url(#bl6)"/>
<rect x="1850.34" y="2099.06" width="55.66" height="4.02" rx="2.01" ry="2.01" fill="#000" opacity="0.7" filter="url(#bl2.5)"/>
<rect x="1850.34" y="2097.05" width="55.66" height="37.11" rx="18.55" ry="18.55" fill="#000" opacity="0.053" filter="url(#bl6)"/>
<rect x="1521.01" y="2100.76" width="37.11" height="3.71" rx="1.85" ry="1.85" fill="#000" opacity="0.6" filter="url(#bl2)"/>
<rect x="1790.03" y="2099.84" width="18.55" height="3.09" rx="1.54" ry="1.54" fill="#000" opacity="0.4" filter="url(#bl2)"/>
<rect x="1876.62" y="2098.59" width="18.55" height="3.09" rx="1.54" ry="1.54" fill="#000" opacity="0.4" filter="url(#bl2)"/>
</g>
<rect x="1296.85" y="2059.33" width="647.18" height="74.83" fill="none" stroke="#000" stroke-width="2.6"/>
<clipPath id="bc16"><rect x="1298.4" y="2159.82" width="644.08" height="75.76"/></clipPath>
<rect x="1298.4" y="2159.82" width="644.08" height="75.76" fill="#f9f9f9"/>
<g clip-path="url(#bc16)">
<rect x="1316.95" y="2178.07" width="92.77" height="26.59" rx="13.29" ry="13.29" fill="#000" opacity="0.22" filter="url(#bl5)"/>
<ellipse cx="1363.34" cy="2191.36" rx="41.74" ry="7.73" fill="#000" opacity="1" filter="url(#bl2.5)"/>
<rect x="1332.42" y="2184.56" width="61.84" height="13.61" rx="6.8" ry="6.8" fill="#000" opacity="1" filter="url(#bl2.5)"/>
<rect x="1395.81" y="2179.0" width="98.95" height="29.69" rx="14.85" ry="14.85" fill="#000" opacity="0.22" filter="url(#bl5)"/>
<ellipse cx="1445.28" cy="2193.84" rx="44.84" ry="9.28" fill="#000" opacity="1" filter="url(#bl2.5)"/>
<rect x="1411.26" y="2185.49" width="68.03" height="16.7" rx="8.35" ry="8.35" fill="#000" opacity="1" filter="url(#bl2.5)"/>
<rect x="1476.18" y="2178.69" width="102.04" height="30.3" rx="15.15" ry="15.15" fill="#000" opacity="0.22" filter="url(#bl5)"/>
<ellipse cx="1527.2" cy="2193.84" rx="46.38" ry="9.59" fill="#000" opacity="1" filter="url(#bl2.5)"/>
<rect x="1491.64" y="2185.18" width="71.12" height="17.32" rx="8.66" ry="8.66" fill="#000" opacity="1" filter="url(#bl2.5)"/>
<rect x="1561.21" y="2179.92" width="105.14" height="30.3" rx="15.15" ry="15.15" fill="#000" opacity="0.22" filter="url(#bl5)"/>
<ellipse cx="1613.78" cy="2195.07" rx="47.93" ry="9.59" fill="#000" opacity="1" filter="url(#bl2.5)"/>
<rect x="1576.67" y="2186.41" width="74.21" height="17.32" rx="8.66" ry="8.66" fill="#000" opacity="1" filter="url(#bl2.5)"/>
<rect x="1652.43" y="2181.78" width="102.04" height="25.36" rx="12.68" ry="12.68" fill="#000" opacity="0.22" filter="url(#bl5)"/>
<ellipse cx="1703.45" cy="2194.46" rx="46.38" ry="7.11" fill="#000" opacity="1" filter="url(#bl2.5)"/>
<rect x="1667.89" y="2188.28" width="71.12" height="12.37" rx="6.18" ry="6.18" fill="#000" opacity="1" filter="url(#bl2.5)"/>
<rect x="1737.47" y="2180.86" width="102.04" height="25.97" rx="12.98" ry="12.98" fill="#000" opacity="0.22" filter="url(#bl5)"/>
<ellipse cx="1788.49" cy="2193.84" rx="46.38" ry="7.42" fill="#000" opacity="1" filter="url(#bl2.5)"/>
<rect x="1752.93" y="2187.35" width="71.12" height="12.99" rx="6.5" ry="6.5" fill="#000" opacity="1" filter="url(#bl2.5)"/>
<rect x="1828.7" y="2175.6" width="98.95" height="28.45" rx="14.22" ry="14.22" fill="#000" opacity="0.22" filter="url(#bl5)"/>
<ellipse cx="1878.17" cy="2189.82" rx="44.84" ry="8.66" fill="#000" opacity="1" filter="url(#bl2.5)"/>
<rect x="1844.15" y="2182.09" width="68.03" height="15.46" rx="7.73" ry="7.73" fill="#000" opacity="1" filter="url(#bl2.5)"/>
<rect x="1331.46" y="2188.89" width="581.34" height="8.04" rx="4.02" ry="4.02" fill="#000" opacity="1" filter="url(#bl3)"/>
</g>
<rect x="1298.4" y="2159.82" width="644.08" height="75.76" fill="none" stroke="#000" stroke-width="2.6"/>
</g>
</svg>
</body></html>
